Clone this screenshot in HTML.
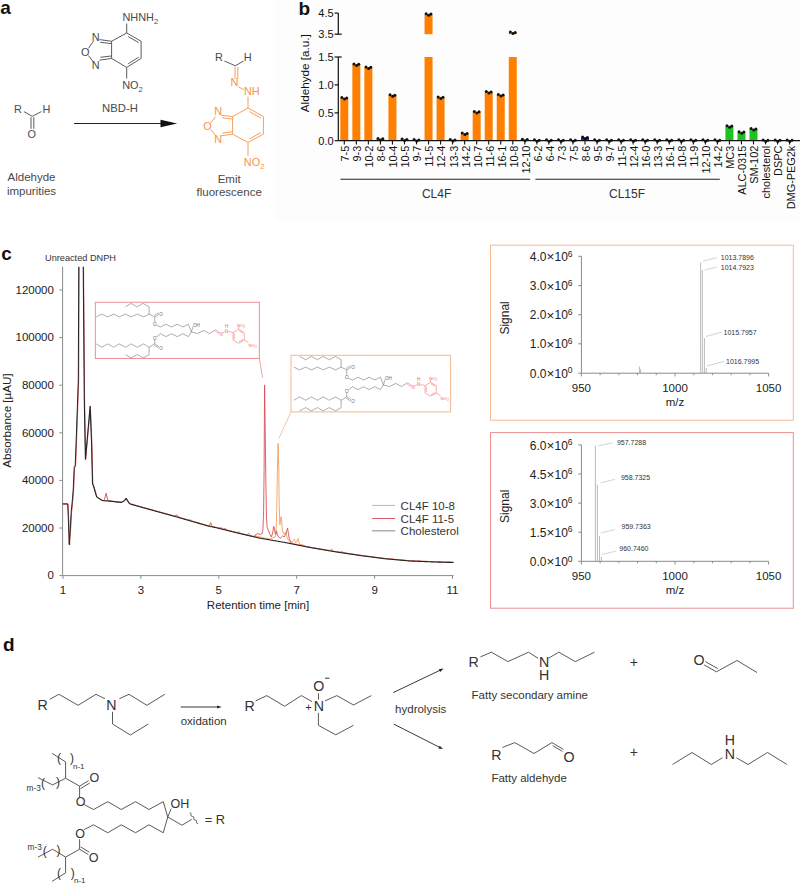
<!DOCTYPE html>
<html><head><meta charset="utf-8"><style>
html,body{margin:0;padding:0;background:#fff;}
svg{display:block;font-family:"Liberation Sans", sans-serif;}
</style></head><body>
<svg width="800" height="884" viewBox="0 0 800 884">
<rect width="800" height="884" fill="#fff"/>
<rect x="275" y="0" width="525" height="220.5" fill="#fdfdfd"/>
<text x="0.20" y="14.00" font-size="19" fill="#111" text-anchor="start" font-weight="bold" >a</text>
<text x="122.5" y="20.8" font-size="10.9" fill="#4a4a4a">NHNH<tspan font-size="7.5" dy="3">2</tspan></text>
<line x1="126.70" y1="23.60" x2="126.70" y2="33.00" stroke="#4a4a4a" stroke-width="0.9" />
<polyline points="126.70,33.00 141.10,41.25 141.10,58.40 126.70,67.40 111.60,58.40 111.60,41.25 126.70,33.00" fill="none" stroke="#4a4a4a" stroke-width="0.9" stroke-linejoin="round" />
<line x1="128.20" y1="36.60" x2="138.60" y2="42.60" stroke="#4a4a4a" stroke-width="0.9" />
<line x1="128.20" y1="63.80" x2="138.60" y2="57.20" stroke="#4a4a4a" stroke-width="0.9" />
<line x1="111.60" y1="41.25" x2="99.50" y2="39.60" stroke="#4a4a4a" stroke-width="0.9" />
<line x1="111.20" y1="43.60" x2="100.30" y2="42.30" stroke="#4a4a4a" stroke-width="0.9" />
<line x1="111.60" y1="58.40" x2="99.50" y2="60.20" stroke="#4a4a4a" stroke-width="0.9" />
<line x1="111.20" y1="56.00" x2="100.30" y2="57.30" stroke="#4a4a4a" stroke-width="0.9" />
<line x1="93.30" y1="41.30" x2="88.50" y2="48.30" stroke="#4a4a4a" stroke-width="0.9" />
<line x1="88.50" y1="55.50" x2="93.30" y2="62.00" stroke="#4a4a4a" stroke-width="0.9" />
<text x="91.80" y="40.60" font-size="10.9" fill="#4a4a4a" text-anchor="start" font-weight="normal" >N</text>
<text x="81.00" y="55.60" font-size="10.9" fill="#4a4a4a" text-anchor="start" font-weight="normal" >O</text>
<text x="91.80" y="68.60" font-size="10.9" fill="#4a4a4a" text-anchor="start" font-weight="normal" >N</text>
<line x1="126.70" y1="67.40" x2="126.70" y2="78.60" stroke="#4a4a4a" stroke-width="0.9" />
<text x="122.2" y="88.8" font-size="10.9" fill="#4a4a4a">NO<tspan font-size="7.5" dy="3">2</tspan></text>
<text x="120.00" y="112.00" font-size="11.3" fill="#4a4a4a" text-anchor="middle" font-weight="normal" >NBD-H</text>
<text x="14.00" y="113.30" font-size="10.9" fill="#4a4a4a" text-anchor="start" font-weight="normal" >R</text>
<line x1="23.90" y1="111.60" x2="32.30" y2="116.30" stroke="#4a4a4a" stroke-width="0.9" />
<line x1="32.30" y1="116.30" x2="41.40" y2="111.60" stroke="#4a4a4a" stroke-width="0.9" />
<text x="42.60" y="113.30" font-size="10.9" fill="#4a4a4a" text-anchor="start" font-weight="normal" >H</text>
<line x1="31.00" y1="117.20" x2="31.00" y2="128.80" stroke="#4a4a4a" stroke-width="0.9" />
<line x1="33.80" y1="117.20" x2="33.80" y2="128.80" stroke="#4a4a4a" stroke-width="0.9" />
<text x="27.60" y="138.40" font-size="10.9" fill="#4a4a4a" text-anchor="start" font-weight="normal" >O</text>
<text x="31.50" y="181.00" font-size="11.5" fill="#4a4a4a" text-anchor="middle" font-weight="normal" >Aldehyde</text>
<text x="31.50" y="194.60" font-size="11.5" fill="#4a4a4a" text-anchor="middle" font-weight="normal" >impurities</text>
<line x1="74.10" y1="123.50" x2="163.00" y2="123.50" stroke="#222" stroke-width="1" />
<polygon points="160.5,119.8 177.2,123.5 160.5,127.2" fill="#111"/>
<text x="215.00" y="60.80" font-size="10.9" fill="#4a4a4a" text-anchor="start" font-weight="normal" >R</text>
<text x="243.80" y="60.80" font-size="10.9" fill="#4a4a4a" text-anchor="start" font-weight="normal" >H</text>
<line x1="224.40" y1="61.00" x2="235.30" y2="65.80" stroke="#4a4a4a" stroke-width="0.9" />
<line x1="235.30" y1="65.80" x2="243.60" y2="61.00" stroke="#4a4a4a" stroke-width="0.9" />
<line x1="235.00" y1="66.80" x2="235.00" y2="79.00" stroke="#f5934b" stroke-width="0.9" />
<line x1="237.80" y1="66.80" x2="237.80" y2="79.00" stroke="#f5934b" stroke-width="0.9" />
<text x="230.40" y="86.40" font-size="10.9" fill="#f5934b" text-anchor="start" font-weight="normal" >N</text>
<line x1="238.20" y1="86.80" x2="244.00" y2="89.60" stroke="#f5934b" stroke-width="0.9" />
<text x="244.00" y="95.40" font-size="10.9" fill="#f5934b" text-anchor="start" font-weight="normal" >NH</text>
<line x1="248.00" y1="96.80" x2="248.00" y2="108.00" stroke="#f5934b" stroke-width="0.9" />
<polyline points="248.00,108.00 263.40,116.60 263.40,134.20 248.00,142.40 232.60,134.20 232.60,116.60 248.00,108.00" fill="none" stroke="#f5934b" stroke-width="0.9" stroke-linejoin="round" />
<line x1="249.50" y1="111.60" x2="260.90" y2="118.20" stroke="#f5934b" stroke-width="0.9" />
<line x1="249.50" y1="138.90" x2="260.90" y2="132.60" stroke="#f5934b" stroke-width="0.9" />
<line x1="232.60" y1="116.60" x2="221.20" y2="115.20" stroke="#f5934b" stroke-width="0.9" />
<line x1="232.20" y1="119.00" x2="222.00" y2="117.80" stroke="#f5934b" stroke-width="0.9" />
<line x1="232.60" y1="134.20" x2="221.20" y2="135.80" stroke="#f5934b" stroke-width="0.9" />
<line x1="232.20" y1="131.80" x2="222.00" y2="133.20" stroke="#f5934b" stroke-width="0.9" />
<line x1="215.50" y1="116.40" x2="210.80" y2="123.00" stroke="#f5934b" stroke-width="0.9" />
<line x1="210.80" y1="129.60" x2="215.50" y2="135.40" stroke="#f5934b" stroke-width="0.9" />
<text x="214.20" y="115.40" font-size="10.9" fill="#f5934b" text-anchor="start" font-weight="normal" >N</text>
<text x="203.20" y="129.80" font-size="10.9" fill="#f5934b" text-anchor="start" font-weight="normal" >O</text>
<text x="214.20" y="142.60" font-size="10.9" fill="#f5934b" text-anchor="start" font-weight="normal" >N</text>
<line x1="248.00" y1="142.40" x2="248.00" y2="155.80" stroke="#f5934b" stroke-width="0.9" />
<text x="243.8" y="166.2" font-size="10.9" fill="#f5934b">NO<tspan font-size="7.5" dy="3">2</tspan></text>
<text x="229.20" y="183.20" font-size="11.5" fill="#4a4a4a" text-anchor="middle" font-weight="normal" >Emit</text>
<text x="229.20" y="196.20" font-size="11.5" fill="#4a4a4a" text-anchor="middle" font-weight="normal" >fluorescence</text>
<text x="298.40" y="15.40" font-size="19" fill="#111" text-anchor="start" font-weight="bold" >b</text>
<line x1="338.30" y1="13.10" x2="338.30" y2="34.20" stroke="#111" stroke-width="1.2" />
<line x1="338.30" y1="57.00" x2="338.30" y2="140.70" stroke="#111" stroke-width="1.2" />
<line x1="334.60" y1="13.10" x2="338.30" y2="13.10" stroke="#111" stroke-width="1.2" />
<text x="333.60" y="17.10" font-size="11" fill="#111" text-anchor="end" font-weight="normal" >4.5</text>
<line x1="334.60" y1="34.20" x2="341.70" y2="34.20" stroke="#111" stroke-width="1.2" />
<text x="333.60" y="38.20" font-size="11" fill="#111" text-anchor="end" font-weight="normal" >3.5</text>
<line x1="334.60" y1="57.00" x2="341.70" y2="57.00" stroke="#111" stroke-width="1.2" />
<text x="333.60" y="61.00" font-size="11" fill="#111" text-anchor="end" font-weight="normal" >1.5</text>
<line x1="334.60" y1="84.90" x2="338.30" y2="84.90" stroke="#111" stroke-width="1.2" />
<text x="333.60" y="88.90" font-size="11" fill="#111" text-anchor="end" font-weight="normal" >1.0</text>
<line x1="334.60" y1="112.90" x2="338.30" y2="112.90" stroke="#111" stroke-width="1.2" />
<text x="333.60" y="116.90" font-size="11" fill="#111" text-anchor="end" font-weight="normal" >0.5</text>
<line x1="334.60" y1="140.70" x2="338.30" y2="140.70" stroke="#111" stroke-width="1.2" />
<text x="333.60" y="144.70" font-size="11" fill="#111" text-anchor="end" font-weight="normal" >0.0</text>
<text transform="translate(309.0,73.2) rotate(-90)" font-size="11.7" fill="#111" text-anchor="middle">Aldehyde [a.u.]</text>
<rect x="340.30" y="98.10" width="8" height="42.60" fill="#ff8000"/>
<circle cx="341.90" cy="97.50" r="1.5" fill="#111"/>
<circle cx="344.50" cy="99.00" r="1.5" fill="#111"/>
<circle cx="346.70" cy="97.90" r="1.5" fill="#111"/>
<line x1="344.30" y1="140.70" x2="344.30" y2="144.40" stroke="#111" stroke-width="1.1" />
<text transform="translate(349.20,145.7) rotate(-90) scale(0.965,1)" font-size="11.3" fill="#111" text-anchor="end">7-5</text>
<rect x="352.34" y="64.50" width="8" height="76.20" fill="#ff8000"/>
<circle cx="353.94" cy="63.90" r="1.5" fill="#111"/>
<circle cx="356.54" cy="65.40" r="1.5" fill="#111"/>
<circle cx="358.74" cy="64.30" r="1.5" fill="#111"/>
<line x1="356.34" y1="140.70" x2="356.34" y2="144.40" stroke="#111" stroke-width="1.1" />
<text transform="translate(361.24,145.7) rotate(-90) scale(0.965,1)" font-size="11.3" fill="#111" text-anchor="end">9-3</text>
<rect x="364.37" y="67.50" width="8" height="73.20" fill="#ff8000"/>
<circle cx="365.97" cy="66.90" r="1.5" fill="#111"/>
<circle cx="368.57" cy="68.40" r="1.5" fill="#111"/>
<circle cx="370.77" cy="67.30" r="1.5" fill="#111"/>
<line x1="368.37" y1="140.70" x2="368.37" y2="144.40" stroke="#111" stroke-width="1.1" />
<text transform="translate(373.27,145.7) rotate(-90) scale(0.965,1)" font-size="11.3" fill="#111" text-anchor="end">10-2</text>
<rect x="376.41" y="139.00" width="8" height="1.70" fill="#ff8000"/>
<circle cx="378.01" cy="138.40" r="1.5" fill="#111"/>
<circle cx="380.61" cy="139.90" r="1.5" fill="#111"/>
<circle cx="382.81" cy="138.80" r="1.5" fill="#111"/>
<line x1="380.41" y1="140.70" x2="380.41" y2="144.40" stroke="#111" stroke-width="1.1" />
<text transform="translate(385.31,145.7) rotate(-90) scale(0.965,1)" font-size="11.3" fill="#111" text-anchor="end">8-6</text>
<rect x="388.44" y="95.40" width="8" height="45.30" fill="#ff8000"/>
<circle cx="390.04" cy="94.80" r="1.5" fill="#111"/>
<circle cx="392.64" cy="96.30" r="1.5" fill="#111"/>
<circle cx="394.84" cy="95.20" r="1.5" fill="#111"/>
<line x1="392.44" y1="140.70" x2="392.44" y2="144.40" stroke="#111" stroke-width="1.1" />
<text transform="translate(397.34,145.7) rotate(-90) scale(0.965,1)" font-size="11.3" fill="#111" text-anchor="end">10-4</text>
<rect x="400.48" y="139.60" width="8" height="1.10" fill="#ff8000"/>
<circle cx="402.08" cy="139.00" r="1.5" fill="#111"/>
<circle cx="404.68" cy="140.50" r="1.5" fill="#111"/>
<circle cx="406.88" cy="139.40" r="1.5" fill="#111"/>
<line x1="404.48" y1="140.70" x2="404.48" y2="144.40" stroke="#111" stroke-width="1.1" />
<text transform="translate(409.38,145.7) rotate(-90) scale(0.965,1)" font-size="11.3" fill="#111" text-anchor="end">10-5</text>
<rect x="412.51" y="140.10" width="8" height="0.60" fill="#ff8000"/>
<circle cx="414.11" cy="139.50" r="1.5" fill="#111"/>
<circle cx="416.71" cy="141.00" r="1.5" fill="#111"/>
<circle cx="418.91" cy="139.90" r="1.5" fill="#111"/>
<line x1="416.51" y1="140.70" x2="416.51" y2="144.40" stroke="#111" stroke-width="1.1" />
<text transform="translate(421.41,145.7) rotate(-90) scale(0.965,1)" font-size="11.3" fill="#111" text-anchor="end">9-7</text>
<rect x="424.55" y="57" width="8" height="83.70" fill="#ff8000"/>
<rect x="424.55" y="14.3" width="8" height="19.9" fill="#ff8000"/>
<circle cx="426.15" cy="13.70" r="1.5" fill="#111"/>
<circle cx="428.75" cy="15.20" r="1.5" fill="#111"/>
<circle cx="430.94" cy="14.10" r="1.5" fill="#111"/>
<line x1="428.55" y1="140.70" x2="428.55" y2="144.40" stroke="#111" stroke-width="1.1" />
<text transform="translate(433.44,145.7) rotate(-90) scale(0.965,1)" font-size="11.3" fill="#111" text-anchor="end">11-5</text>
<rect x="436.58" y="97.50" width="8" height="43.20" fill="#ff8000"/>
<circle cx="438.18" cy="96.90" r="1.5" fill="#111"/>
<circle cx="440.78" cy="98.40" r="1.5" fill="#111"/>
<circle cx="442.98" cy="97.30" r="1.5" fill="#111"/>
<line x1="440.58" y1="140.70" x2="440.58" y2="144.40" stroke="#111" stroke-width="1.1" />
<text transform="translate(445.48,145.7) rotate(-90) scale(0.965,1)" font-size="11.3" fill="#111" text-anchor="end">12-4</text>
<rect x="448.62" y="140.20" width="8" height="0.50" fill="#ff8000"/>
<circle cx="450.22" cy="139.60" r="1.5" fill="#111"/>
<circle cx="452.81" cy="141.10" r="1.5" fill="#111"/>
<circle cx="455.01" cy="140.00" r="1.5" fill="#111"/>
<line x1="452.62" y1="140.70" x2="452.62" y2="144.40" stroke="#111" stroke-width="1.1" />
<text transform="translate(457.51,145.7) rotate(-90) scale(0.965,1)" font-size="11.3" fill="#111" text-anchor="end">13-3</text>
<rect x="460.65" y="133.60" width="8" height="7.10" fill="#ff8000"/>
<circle cx="462.25" cy="133.00" r="1.5" fill="#111"/>
<circle cx="464.85" cy="134.50" r="1.5" fill="#111"/>
<circle cx="467.05" cy="133.40" r="1.5" fill="#111"/>
<line x1="464.65" y1="140.70" x2="464.65" y2="144.40" stroke="#111" stroke-width="1.1" />
<text transform="translate(469.55,145.7) rotate(-90) scale(0.965,1)" font-size="11.3" fill="#111" text-anchor="end">14-2</text>
<rect x="472.69" y="112.00" width="8" height="28.70" fill="#ff8000"/>
<circle cx="474.29" cy="111.40" r="1.5" fill="#111"/>
<circle cx="476.88" cy="112.90" r="1.5" fill="#111"/>
<circle cx="479.08" cy="111.80" r="1.5" fill="#111"/>
<line x1="476.69" y1="140.70" x2="476.69" y2="144.40" stroke="#111" stroke-width="1.1" />
<text transform="translate(481.58,145.7) rotate(-90) scale(0.965,1)" font-size="11.3" fill="#111" text-anchor="end">10-7</text>
<rect x="484.72" y="92.10" width="8" height="48.60" fill="#ff8000"/>
<circle cx="486.32" cy="91.50" r="1.5" fill="#111"/>
<circle cx="488.92" cy="93.00" r="1.5" fill="#111"/>
<circle cx="491.12" cy="91.90" r="1.5" fill="#111"/>
<line x1="488.72" y1="140.70" x2="488.72" y2="144.40" stroke="#111" stroke-width="1.1" />
<text transform="translate(493.62,145.7) rotate(-90) scale(0.965,1)" font-size="11.3" fill="#111" text-anchor="end">11-6</text>
<rect x="496.75" y="95.10" width="8" height="45.60" fill="#ff8000"/>
<circle cx="498.36" cy="94.50" r="1.5" fill="#111"/>
<circle cx="500.95" cy="96.00" r="1.5" fill="#111"/>
<circle cx="503.15" cy="94.90" r="1.5" fill="#111"/>
<line x1="500.75" y1="140.70" x2="500.75" y2="144.40" stroke="#111" stroke-width="1.1" />
<text transform="translate(505.65,145.7) rotate(-90) scale(0.965,1)" font-size="11.3" fill="#111" text-anchor="end">16-1</text>
<rect x="508.79" y="57" width="8" height="83.70" fill="#ff8000"/>
<rect x="508.79" y="32.6" width="8" height="1.6" fill="#ff8000"/>
<circle cx="510.39" cy="32.00" r="1.5" fill="#111"/>
<circle cx="512.99" cy="33.50" r="1.5" fill="#111"/>
<circle cx="515.19" cy="32.40" r="1.5" fill="#111"/>
<line x1="512.79" y1="140.70" x2="512.79" y2="144.40" stroke="#111" stroke-width="1.1" />
<text transform="translate(517.69,145.7) rotate(-90) scale(0.965,1)" font-size="11.3" fill="#111" text-anchor="end">10-8</text>
<rect x="520.83" y="139.80" width="8" height="0.90" fill="#ff8000"/>
<circle cx="522.43" cy="139.20" r="1.5" fill="#111"/>
<circle cx="525.03" cy="140.70" r="1.5" fill="#111"/>
<circle cx="527.23" cy="139.60" r="1.5" fill="#111"/>
<line x1="524.83" y1="140.70" x2="524.83" y2="144.40" stroke="#111" stroke-width="1.1" />
<text transform="translate(529.73,145.7) rotate(-90) scale(0.965,1)" font-size="11.3" fill="#111" text-anchor="end">12-10</text>
<circle cx="534.46" cy="139.80" r="1.5" fill="#111"/>
<circle cx="537.06" cy="141.30" r="1.5" fill="#111"/>
<circle cx="539.26" cy="140.20" r="1.5" fill="#111"/>
<line x1="536.86" y1="140.70" x2="536.86" y2="144.40" stroke="#111" stroke-width="1.1" />
<text transform="translate(541.76,145.7) rotate(-90) scale(0.965,1)" font-size="11.3" fill="#111" text-anchor="end">6-2</text>
<circle cx="546.50" cy="139.80" r="1.5" fill="#111"/>
<circle cx="549.10" cy="141.30" r="1.5" fill="#111"/>
<circle cx="551.29" cy="140.20" r="1.5" fill="#111"/>
<line x1="548.89" y1="140.70" x2="548.89" y2="144.40" stroke="#111" stroke-width="1.1" />
<text transform="translate(553.79,145.7) rotate(-90) scale(0.965,1)" font-size="11.3" fill="#111" text-anchor="end">6-4</text>
<circle cx="558.53" cy="139.80" r="1.5" fill="#111"/>
<circle cx="561.13" cy="141.30" r="1.5" fill="#111"/>
<circle cx="563.33" cy="140.20" r="1.5" fill="#111"/>
<line x1="560.93" y1="140.70" x2="560.93" y2="144.40" stroke="#111" stroke-width="1.1" />
<text transform="translate(565.83,145.7) rotate(-90) scale(0.965,1)" font-size="11.3" fill="#111" text-anchor="end">7-3</text>
<circle cx="570.57" cy="139.80" r="1.5" fill="#111"/>
<circle cx="573.17" cy="141.30" r="1.5" fill="#111"/>
<circle cx="575.37" cy="140.20" r="1.5" fill="#111"/>
<line x1="572.97" y1="140.70" x2="572.97" y2="144.40" stroke="#111" stroke-width="1.1" />
<text transform="translate(577.87,145.7) rotate(-90) scale(0.965,1)" font-size="11.3" fill="#111" text-anchor="end">7-5</text>
<rect x="581.00" y="137.60" width="8" height="3.10" fill="#1a1aff"/>
<circle cx="582.60" cy="137.00" r="1.5" fill="#111"/>
<circle cx="585.20" cy="138.50" r="1.5" fill="#111"/>
<circle cx="587.40" cy="137.40" r="1.5" fill="#111"/>
<line x1="585.00" y1="140.70" x2="585.00" y2="144.40" stroke="#111" stroke-width="1.1" />
<text transform="translate(589.90,145.7) rotate(-90) scale(0.965,1)" font-size="11.3" fill="#111" text-anchor="end">8-6</text>
<circle cx="594.64" cy="139.80" r="1.5" fill="#111"/>
<circle cx="597.24" cy="141.30" r="1.5" fill="#111"/>
<circle cx="599.44" cy="140.20" r="1.5" fill="#111"/>
<line x1="597.04" y1="140.70" x2="597.04" y2="144.40" stroke="#111" stroke-width="1.1" />
<text transform="translate(601.94,145.7) rotate(-90) scale(0.965,1)" font-size="11.3" fill="#111" text-anchor="end">9-5</text>
<circle cx="606.67" cy="139.80" r="1.5" fill="#111"/>
<circle cx="609.27" cy="141.30" r="1.5" fill="#111"/>
<circle cx="611.47" cy="140.20" r="1.5" fill="#111"/>
<line x1="609.07" y1="140.70" x2="609.07" y2="144.40" stroke="#111" stroke-width="1.1" />
<text transform="translate(613.97,145.7) rotate(-90) scale(0.965,1)" font-size="11.3" fill="#111" text-anchor="end">9-7</text>
<circle cx="618.71" cy="139.80" r="1.5" fill="#111"/>
<circle cx="621.31" cy="141.30" r="1.5" fill="#111"/>
<circle cx="623.50" cy="140.20" r="1.5" fill="#111"/>
<line x1="621.11" y1="140.70" x2="621.11" y2="144.40" stroke="#111" stroke-width="1.1" />
<text transform="translate(626.00,145.7) rotate(-90) scale(0.965,1)" font-size="11.3" fill="#111" text-anchor="end">11-5</text>
<circle cx="630.74" cy="139.80" r="1.5" fill="#111"/>
<circle cx="633.34" cy="141.30" r="1.5" fill="#111"/>
<circle cx="635.54" cy="140.20" r="1.5" fill="#111"/>
<line x1="633.14" y1="140.70" x2="633.14" y2="144.40" stroke="#111" stroke-width="1.1" />
<text transform="translate(638.04,145.7) rotate(-90) scale(0.965,1)" font-size="11.3" fill="#111" text-anchor="end">12-4</text>
<circle cx="642.77" cy="139.80" r="1.5" fill="#111"/>
<circle cx="645.38" cy="141.30" r="1.5" fill="#111"/>
<circle cx="647.57" cy="140.20" r="1.5" fill="#111"/>
<line x1="645.17" y1="140.70" x2="645.17" y2="144.40" stroke="#111" stroke-width="1.1" />
<text transform="translate(650.07,145.7) rotate(-90) scale(0.965,1)" font-size="11.3" fill="#111" text-anchor="end">16-0</text>
<circle cx="654.81" cy="139.80" r="1.5" fill="#111"/>
<circle cx="657.41" cy="141.30" r="1.5" fill="#111"/>
<circle cx="659.61" cy="140.20" r="1.5" fill="#111"/>
<line x1="657.21" y1="140.70" x2="657.21" y2="144.40" stroke="#111" stroke-width="1.1" />
<text transform="translate(662.11,145.7) rotate(-90) scale(0.965,1)" font-size="11.3" fill="#111" text-anchor="end">13-3</text>
<circle cx="666.85" cy="139.80" r="1.5" fill="#111"/>
<circle cx="669.45" cy="141.30" r="1.5" fill="#111"/>
<circle cx="671.64" cy="140.20" r="1.5" fill="#111"/>
<line x1="669.25" y1="140.70" x2="669.25" y2="144.40" stroke="#111" stroke-width="1.1" />
<text transform="translate(674.14,145.7) rotate(-90) scale(0.965,1)" font-size="11.3" fill="#111" text-anchor="end">16-1</text>
<circle cx="678.88" cy="139.80" r="1.5" fill="#111"/>
<circle cx="681.48" cy="141.30" r="1.5" fill="#111"/>
<circle cx="683.68" cy="140.20" r="1.5" fill="#111"/>
<line x1="681.28" y1="140.70" x2="681.28" y2="144.40" stroke="#111" stroke-width="1.1" />
<text transform="translate(686.18,145.7) rotate(-90) scale(0.965,1)" font-size="11.3" fill="#111" text-anchor="end">10-8</text>
<circle cx="690.92" cy="139.80" r="1.5" fill="#111"/>
<circle cx="693.52" cy="141.30" r="1.5" fill="#111"/>
<circle cx="695.72" cy="140.20" r="1.5" fill="#111"/>
<line x1="693.32" y1="140.70" x2="693.32" y2="144.40" stroke="#111" stroke-width="1.1" />
<text transform="translate(698.22,145.7) rotate(-90) scale(0.965,1)" font-size="11.3" fill="#111" text-anchor="end">11-9</text>
<circle cx="702.95" cy="139.80" r="1.5" fill="#111"/>
<circle cx="705.55" cy="141.30" r="1.5" fill="#111"/>
<circle cx="707.75" cy="140.20" r="1.5" fill="#111"/>
<line x1="705.35" y1="140.70" x2="705.35" y2="144.40" stroke="#111" stroke-width="1.1" />
<text transform="translate(710.25,145.7) rotate(-90) scale(0.965,1)" font-size="11.3" fill="#111" text-anchor="end">12-10</text>
<circle cx="714.99" cy="139.80" r="1.5" fill="#111"/>
<circle cx="717.59" cy="141.30" r="1.5" fill="#111"/>
<circle cx="719.78" cy="140.20" r="1.5" fill="#111"/>
<line x1="717.38" y1="140.70" x2="717.38" y2="144.40" stroke="#111" stroke-width="1.1" />
<text transform="translate(722.28,145.7) rotate(-90) scale(0.965,1)" font-size="11.3" fill="#111" text-anchor="end">14-2</text>
<rect x="725.42" y="126.30" width="8" height="14.40" fill="#1ec31e"/>
<circle cx="727.02" cy="125.70" r="1.5" fill="#111"/>
<circle cx="729.62" cy="127.20" r="1.5" fill="#111"/>
<circle cx="731.82" cy="126.10" r="1.5" fill="#111"/>
<line x1="729.42" y1="140.70" x2="729.42" y2="144.40" stroke="#111" stroke-width="1.1" />
<text transform="translate(734.32,145.7) rotate(-90) scale(0.965,1)" font-size="11.3" fill="#111" text-anchor="end">MC3</text>
<rect x="737.46" y="132.30" width="8" height="8.40" fill="#1ec31e"/>
<circle cx="739.06" cy="131.70" r="1.5" fill="#111"/>
<circle cx="741.66" cy="133.20" r="1.5" fill="#111"/>
<circle cx="743.86" cy="132.10" r="1.5" fill="#111"/>
<line x1="741.46" y1="140.70" x2="741.46" y2="144.40" stroke="#111" stroke-width="1.1" />
<text transform="translate(746.36,145.7) rotate(-90) scale(0.965,1)" font-size="11.3" fill="#111" text-anchor="end">ALC-0315</text>
<rect x="749.49" y="129.10" width="8" height="11.60" fill="#1ec31e"/>
<circle cx="751.09" cy="128.50" r="1.5" fill="#111"/>
<circle cx="753.69" cy="130.00" r="1.5" fill="#111"/>
<circle cx="755.89" cy="128.90" r="1.5" fill="#111"/>
<line x1="753.49" y1="140.70" x2="753.49" y2="144.40" stroke="#111" stroke-width="1.1" />
<text transform="translate(758.39,145.7) rotate(-90) scale(0.965,1)" font-size="11.3" fill="#111" text-anchor="end">SM-102</text>
<circle cx="763.13" cy="139.90" r="1.5" fill="#111"/>
<circle cx="765.73" cy="141.40" r="1.5" fill="#111"/>
<circle cx="767.93" cy="140.30" r="1.5" fill="#111"/>
<line x1="765.53" y1="140.70" x2="765.53" y2="144.40" stroke="#111" stroke-width="1.1" />
<text transform="translate(770.43,145.7) rotate(-90) scale(0.965,1)" font-size="11.3" fill="#111" text-anchor="end">cholesterol</text>
<circle cx="775.16" cy="139.90" r="1.5" fill="#111"/>
<circle cx="777.76" cy="141.40" r="1.5" fill="#111"/>
<circle cx="779.96" cy="140.30" r="1.5" fill="#111"/>
<line x1="777.56" y1="140.70" x2="777.56" y2="144.40" stroke="#111" stroke-width="1.1" />
<text transform="translate(782.46,145.7) rotate(-90) scale(0.965,1)" font-size="11.3" fill="#111" text-anchor="end">DSPC</text>
<circle cx="787.20" cy="139.90" r="1.5" fill="#111"/>
<circle cx="789.80" cy="141.40" r="1.5" fill="#111"/>
<circle cx="792.00" cy="140.30" r="1.5" fill="#111"/>
<line x1="789.60" y1="140.70" x2="789.60" y2="144.40" stroke="#111" stroke-width="1.1" />
<text transform="translate(794.50,145.7) rotate(-90) scale(0.965,1)" font-size="11.3" fill="#111" text-anchor="end">DMG-PEG2k</text>
<line x1="338.30" y1="140.70" x2="800.00" y2="140.70" stroke="#111" stroke-width="1.3" />
<line x1="340.50" y1="179.30" x2="530.20" y2="179.30" stroke="#222" stroke-width="1.1" />
<line x1="535.40" y1="179.30" x2="719.80" y2="179.30" stroke="#222" stroke-width="1.1" />
<text x="436.60" y="197.80" font-size="12" fill="#333" text-anchor="middle" font-weight="normal" >CL4F</text>
<text x="627.00" y="197.80" font-size="12" fill="#333" text-anchor="middle" font-weight="normal" >CL15F</text>
<text x="1.30" y="260.30" font-size="19" fill="#111" text-anchor="start" font-weight="bold" >c</text>
<text x="45.00" y="260.50" font-size="9.2" fill="#333" text-anchor="start" font-weight="normal" >Unreacted DNPH</text>
<line x1="62.60" y1="266.60" x2="62.60" y2="575.60" stroke="#8a8a8a" stroke-width="1" />
<line x1="62.60" y1="575.60" x2="453.60" y2="575.60" stroke="#8a8a8a" stroke-width="1" />
<line x1="59.30" y1="575.60" x2="62.60" y2="575.60" stroke="#8a8a8a" stroke-width="1" />
<text x="53.90" y="579.30" font-size="11.5" fill="#222" text-anchor="end" font-weight="normal" >0</text>
<line x1="59.30" y1="528.00" x2="62.60" y2="528.00" stroke="#8a8a8a" stroke-width="1" />
<text x="53.90" y="531.70" font-size="11.5" fill="#222" text-anchor="end" font-weight="normal" >20000</text>
<line x1="59.30" y1="480.40" x2="62.60" y2="480.40" stroke="#8a8a8a" stroke-width="1" />
<text x="53.90" y="484.10" font-size="11.5" fill="#222" text-anchor="end" font-weight="normal" >40000</text>
<line x1="59.30" y1="432.80" x2="62.60" y2="432.80" stroke="#8a8a8a" stroke-width="1" />
<text x="53.90" y="436.50" font-size="11.5" fill="#222" text-anchor="end" font-weight="normal" >60000</text>
<line x1="59.30" y1="385.20" x2="62.60" y2="385.20" stroke="#8a8a8a" stroke-width="1" />
<text x="53.90" y="388.90" font-size="11.5" fill="#222" text-anchor="end" font-weight="normal" >80000</text>
<line x1="59.30" y1="337.60" x2="62.60" y2="337.60" stroke="#8a8a8a" stroke-width="1" />
<text x="53.90" y="341.30" font-size="11.5" fill="#222" text-anchor="end" font-weight="normal" >100000</text>
<line x1="59.30" y1="290.00" x2="62.60" y2="290.00" stroke="#8a8a8a" stroke-width="1" />
<text x="53.90" y="293.70" font-size="11.5" fill="#222" text-anchor="end" font-weight="normal" >120000</text>
<line x1="63.00" y1="575.60" x2="63.00" y2="578.80" stroke="#8a8a8a" stroke-width="1" />
<text x="63.00" y="594.20" font-size="11.5" fill="#222" text-anchor="middle" font-weight="normal" >1</text>
<line x1="140.90" y1="575.60" x2="140.90" y2="578.80" stroke="#8a8a8a" stroke-width="1" />
<text x="140.90" y="594.20" font-size="11.5" fill="#222" text-anchor="middle" font-weight="normal" >3</text>
<line x1="218.80" y1="575.60" x2="218.80" y2="578.80" stroke="#8a8a8a" stroke-width="1" />
<text x="218.80" y="594.20" font-size="11.5" fill="#222" text-anchor="middle" font-weight="normal" >5</text>
<line x1="296.70" y1="575.60" x2="296.70" y2="578.80" stroke="#8a8a8a" stroke-width="1" />
<text x="296.70" y="594.20" font-size="11.5" fill="#222" text-anchor="middle" font-weight="normal" >7</text>
<line x1="374.60" y1="575.60" x2="374.60" y2="578.80" stroke="#8a8a8a" stroke-width="1" />
<text x="374.60" y="594.20" font-size="11.5" fill="#222" text-anchor="middle" font-weight="normal" >9</text>
<line x1="452.50" y1="575.60" x2="452.50" y2="578.80" stroke="#8a8a8a" stroke-width="1" />
<text x="452.50" y="594.20" font-size="11.5" fill="#222" text-anchor="middle" font-weight="normal" >11</text>
<text transform="translate(10.6,420.6) rotate(-90)" font-size="11.6" fill="#222" text-anchor="middle">Absorbance [µAU]</text>
<text x="258.00" y="609.20" font-size="11.5" fill="#222" text-anchor="middle" font-weight="normal" >Retention time [min]</text>
<polyline points="130.50,503.90 130.75,503.97 131.00,504.04 131.25,504.11 131.50,504.18 131.75,504.25 132.00,504.32 132.25,504.39 132.50,504.46 132.75,504.53 133.00,504.60 133.25,504.67 133.50,504.74 133.75,504.81 134.00,504.88 134.25,504.95 134.50,505.02 134.75,505.09 135.00,505.16 135.25,505.23 135.50,505.30 135.75,505.37 136.00,505.44 136.25,505.51 136.50,505.58 136.75,505.65 137.00,505.72 137.25,505.79 137.50,505.86 137.75,505.93 138.00,506.00 138.25,506.07 138.50,506.14 138.75,506.21 139.00,506.28 139.25,506.35 139.50,506.42 139.75,506.49 140.00,506.56 140.25,506.62 140.50,506.69 140.75,506.76 141.00,506.83 141.25,506.90 141.50,506.97 141.75,507.04 142.00,507.11 142.25,507.18 142.50,507.25 142.75,507.32 143.00,507.39 143.25,507.46 143.50,507.53 143.75,507.60 144.00,507.67 144.25,507.74 144.50,507.81 144.75,507.88 145.00,507.95 145.25,508.02 145.50,508.09 145.75,508.16 146.00,508.23 146.25,508.30 146.50,508.37 146.75,508.44 147.00,508.51 147.25,508.58 147.50,508.65 147.75,508.72 148.00,508.79 148.25,508.86 148.50,508.93 148.75,509.00 149.00,509.07 149.25,509.14 149.50,509.21 149.75,509.28 150.00,509.35 150.25,509.42 150.50,509.49 150.75,509.56 151.00,509.62 151.25,509.69 151.50,509.76 151.75,509.83 152.00,509.90 152.25,509.97 152.50,510.04 152.75,510.11 153.00,510.18 153.25,510.24 153.50,510.31 153.75,510.38 154.00,510.45 154.25,510.52 154.50,510.59 154.75,510.66 155.00,510.73 155.25,510.79 155.50,510.86 155.75,510.93 156.00,511.00 156.25,511.07 156.50,511.14 156.75,511.21 157.00,511.28 157.25,511.34 157.50,511.41 157.75,511.48 158.00,511.55 158.25,511.62 158.50,511.69 158.75,511.76 159.00,511.83 159.25,511.89 159.50,511.96 159.75,512.03 160.00,512.10 160.25,512.17 160.50,512.24 160.75,512.31 161.00,512.38 161.25,512.44 161.50,512.51 161.75,512.58 162.00,512.65 162.25,512.72 162.50,512.79 162.75,512.86 163.00,512.92 163.25,512.99 163.50,513.06 163.75,513.13 164.00,513.20 164.25,513.27 164.50,513.34 164.75,513.41 165.00,513.48 165.25,513.54 165.50,513.61 165.75,513.68 166.00,513.75 166.25,513.82 166.50,513.89 166.75,513.96 167.00,514.02 167.25,514.09 167.50,514.16 167.75,514.23 168.00,514.30 168.25,514.37 168.50,514.44 168.75,514.51 169.00,514.57 169.25,514.64 169.50,514.71 169.75,514.78 170.00,514.85 170.25,514.92 170.50,514.99 170.75,515.06 171.00,515.12 171.25,515.19 171.50,515.26 171.75,515.33 172.00,515.40 172.25,515.47 172.50,515.53 172.75,515.60 173.00,515.65 173.25,515.70 173.50,515.74 173.75,515.75 174.00,515.75 174.25,515.71 174.50,515.65 174.75,515.56 175.00,515.46 175.25,515.36 175.50,515.29 175.75,515.26 176.00,515.30 176.25,515.41 176.50,515.57 176.75,515.78 177.00,516.02 177.25,516.26 177.50,516.49 177.75,516.70 178.00,516.87 178.25,517.02 178.50,517.15 178.75,517.25 179.00,517.34 179.25,517.43 179.50,517.51 179.75,517.58 180.00,517.65 180.25,517.73 180.50,517.80 180.75,517.87 181.00,517.94 181.25,518.02 181.50,518.09 181.75,518.16 182.00,518.23 182.25,518.31 182.50,518.38 182.75,518.45 183.00,518.52 183.25,518.59 183.50,518.67 183.75,518.74 184.00,518.81 184.25,518.88 184.50,518.96 184.75,519.03 185.00,519.10 185.25,519.17 185.50,519.24 185.75,519.32 186.00,519.39 186.25,519.46 186.50,519.53 186.75,519.61 187.00,519.68 187.25,519.75 187.50,519.82 187.75,519.89 188.00,519.97 188.25,520.04 188.50,520.11 188.75,520.18 189.00,520.26 189.25,520.33 189.50,520.40 189.75,520.47 190.00,520.54 190.25,520.62 190.50,520.69 190.75,520.76 191.00,520.83 191.25,520.91 191.50,520.98 191.75,521.05 192.00,521.12 192.25,521.19 192.50,521.27 192.75,521.34 193.00,521.41 193.25,521.48 193.50,521.56 193.75,521.63 194.00,521.70 194.25,521.77 194.50,521.84 194.75,521.92 195.00,521.99 195.25,522.06 195.50,522.13 195.75,522.21 196.00,522.28 196.25,522.35 196.50,522.42 196.75,522.49 197.00,522.57 197.25,522.64 197.50,522.71 197.75,522.78 198.00,522.86 198.25,522.93 198.50,523.00 198.75,523.07 199.00,523.14 199.25,523.22 199.50,523.29 199.75,523.36 200.00,523.43 200.25,523.51 200.50,523.58 200.75,523.65 201.00,523.72 201.25,523.79 201.50,523.87 201.75,523.94 202.00,524.01 202.25,524.08 202.50,524.16 202.75,524.23 203.00,524.30 203.25,524.37 203.50,524.44 203.75,524.52 204.00,524.59 204.25,524.66 204.50,524.73 204.75,524.81 205.00,524.88 205.25,524.95 205.50,525.02 205.75,525.09 206.00,525.17 206.25,525.24 206.50,525.31 206.75,525.38 207.00,525.46 207.25,525.53 207.50,525.60 207.75,525.65 208.00,525.71 208.25,525.75 208.50,525.80 208.75,525.82 209.00,525.81 209.25,525.73 209.50,525.58 209.75,525.35 210.00,525.09 210.25,524.86 210.50,524.76 210.75,524.83 211.00,525.07 211.25,525.42 211.50,525.79 211.75,526.11 212.00,526.35 212.25,526.52 212.50,526.63 212.75,526.71 213.00,526.77 213.25,526.83 213.50,526.89 213.75,526.94 214.00,526.99 214.25,527.05 214.50,527.10 214.75,527.15 215.00,527.21 215.25,527.26 215.50,527.31 215.75,527.37 216.00,527.42 216.25,527.48 216.50,527.53 216.75,527.58 217.00,527.64 217.25,527.69 217.50,527.74 217.75,527.80 218.00,527.85 218.25,527.91 218.50,527.98 218.75,528.04 219.00,528.10 219.25,528.16 219.50,528.23 219.75,528.29 220.00,528.35 220.25,528.41 220.50,528.48 220.75,528.54 221.00,528.60 221.25,528.66 221.50,528.73 221.75,528.79 222.00,528.85 222.25,528.91 222.50,528.98 222.75,529.04 223.00,529.10 223.25,529.16 223.50,529.23 223.75,529.29 224.00,529.35 224.25,529.41 224.50,529.48 224.75,529.54 225.00,529.60 225.25,529.66 225.50,529.73 225.75,529.79 226.00,529.85 226.25,529.91 226.50,529.98 226.75,530.04 227.00,530.10 227.25,530.16 227.50,530.23 227.75,530.29 228.00,530.35 228.25,530.41 228.50,530.48 228.75,530.54 229.00,530.60 229.25,530.66 229.50,530.73 229.75,530.79 230.00,530.85 230.25,530.91 230.50,530.98 230.75,531.04 231.00,531.10 231.25,531.16 231.50,531.23 231.75,531.29 232.00,531.35 232.25,531.41 232.50,531.48 232.75,531.54 233.00,531.60 233.25,531.66 233.50,531.73 233.75,531.79 234.00,531.85 234.25,531.91 234.50,531.98 234.75,532.04 235.00,532.10 235.25,532.16 235.50,532.23 235.75,532.29 236.00,532.35 236.25,532.41 236.50,532.48 236.75,532.54 237.00,532.60 237.25,532.66 237.50,532.73 237.75,532.79 238.00,532.85 238.25,532.91 238.50,532.98 238.75,533.04 239.00,533.10 239.25,533.16 239.50,533.23 239.75,533.29 240.00,533.35 240.25,533.41 240.50,533.47 240.75,533.52 241.00,533.58 241.25,533.64 241.50,533.70 241.75,533.75 242.00,533.81 242.25,533.87 242.50,533.93 242.75,533.98 243.00,534.04 243.25,534.10 243.50,534.15 243.75,534.21 244.00,534.27 244.25,534.33 244.50,534.38 244.75,534.44 245.00,534.50 245.25,534.56 245.50,534.62 245.75,534.67 246.00,534.73 246.25,534.79 246.50,534.85 246.75,534.90 247.00,534.96 247.25,535.02 247.50,535.08 247.75,535.13 248.00,535.19 248.25,535.25 248.50,535.31 248.75,535.36 249.00,535.42 249.25,535.48 249.50,535.54 249.75,535.59 250.00,535.65 250.25,535.71 250.50,535.76 250.75,535.82 251.00,535.88 251.25,535.94 251.50,536.00 251.75,536.05 252.00,536.11 252.25,536.17 252.50,536.23 252.75,536.28 253.00,536.34 253.25,536.40 253.50,536.46 253.75,536.51 254.00,536.57 254.25,536.63 254.50,536.69 254.75,536.74 255.00,535.95 260.00,536.95 265.00,538.05 270.00,539.05 275.40,536.75 276.10,533.05 276.70,511.25 277.40,470.55 278.10,443.35 278.80,470.55 279.20,504.45 279.90,524.85 280.50,519.45 281.10,516.75 281.80,522.15 282.20,527.55 283.10,533.05 284.20,534.35 285.20,532.35 286.00,533.05 286.90,537.05 288.30,539.85 290.10,542.55 291.70,541.85 293.30,540.45 294.40,539.15 295.40,542.55 296.40,542.55 297.40,539.85 298.20,538.45 299.00,542.55 300.10,544.55 302.60,544.35 303.60,545.55 303.75,546.00 304.00,546.05 304.25,546.10 304.50,546.15 304.75,546.20 305.00,546.25 305.25,546.30 305.50,546.35 305.75,546.40 306.00,546.45 306.25,546.50 306.50,546.55 306.75,546.60 307.00,546.65 307.25,546.70 307.50,546.75 307.75,546.80 308.00,546.85 308.25,546.90 308.50,546.95 308.75,547.00 309.00,547.05 309.25,547.10 309.50,547.15 309.75,547.20 310.00,547.25 310.25,547.29 310.50,547.34 310.75,547.38 311.00,547.42 311.25,547.46 311.50,547.50 311.75,547.55 312.00,547.59 312.25,547.63 312.50,547.67 312.75,547.72 313.00,547.76 313.25,547.80 313.50,547.85 313.75,547.89 314.00,547.93 314.25,547.97 314.50,548.01 314.75,548.06 315.00,548.10 315.25,548.14 315.50,548.18 315.75,548.23 316.00,548.27 316.25,548.31 316.50,548.36 316.75,548.40 317.00,548.44 317.25,548.48 317.50,548.52 317.75,548.57 318.00,548.61 318.25,548.65 318.50,548.70 318.75,548.74 319.00,548.78 319.25,548.82 319.50,548.87 319.75,548.91 320.00,548.95 320.25,548.99 320.50,549.03 320.75,549.08 321.00,549.12 321.25,549.16 321.50,549.21 321.75,549.25 322.00,549.29 322.25,549.33 322.50,549.38 322.75,549.42 323.00,549.46 323.25,549.50 323.50,549.54 323.75,549.59 324.00,549.63 324.25,549.67 324.50,549.72 324.75,549.76 325.00,549.80 325.25,549.84 325.50,549.88 325.75,549.93 326.00,549.97 326.25,550.01 326.50,550.05 326.75,550.10 327.00,550.14 327.25,550.18 327.50,550.23 327.75,550.27 328.00,550.31 328.25,550.35 328.50,550.39 328.75,550.44 329.00,550.48 329.25,550.52 329.50,550.57 329.75,550.61 330.00,550.65 330.25,550.69 330.50,550.74 330.75,550.78 331.00,550.82 331.25,550.86 331.50,550.90 331.75,550.95 332.00,550.99 332.25,551.03 332.50,551.08 332.75,551.12 333.00,551.16 333.25,551.20 333.50,551.25 333.75,551.29 334.00,551.33 334.25,551.37 334.50,551.41 334.75,551.46 335.00,551.50 335.25,551.54 335.50,551.58 335.75,551.61 336.00,551.65 336.25,551.69 336.50,551.73 336.75,551.76 337.00,551.80 337.25,551.84 337.50,551.88 337.75,551.91 338.00,551.95 338.25,551.99 338.50,552.02 338.75,552.06 339.00,552.10 339.25,552.14 339.50,552.17 339.75,552.21 340.00,552.25 340.25,552.29 340.50,552.33 340.75,552.36 341.00,552.40 341.25,552.44 341.50,552.48 341.75,552.51 342.00,552.55 342.25,552.59 342.50,552.62 342.75,552.66 343.00,552.70 343.25,552.74 343.50,552.77 343.75,552.81 344.00,552.85 344.25,552.89 344.50,552.92 344.75,552.96 345.00,553.00 345.25,553.04 345.50,553.08 345.75,553.11 346.00,553.15 346.25,553.19 346.50,553.23 346.75,553.26 347.00,553.30 347.25,553.34 347.50,553.38 347.75,553.41 348.00,553.45 348.25,553.49 348.50,553.52 348.75,553.56 349.00,553.60 349.25,553.64 349.50,553.67 349.75,553.71 350.00,553.75 350.25,553.79 350.50,553.83 350.75,553.86 351.00,553.90 351.25,553.94 351.50,553.98 351.75,554.01 352.00,554.05 352.25,554.09 352.50,554.12 352.75,554.16 353.00,554.20 353.25,554.24 353.50,554.27 353.75,554.31 354.00,554.35 354.25,554.39 354.50,554.42 354.75,554.46 355.00,554.50 355.25,554.54 355.50,554.58 355.75,554.61 356.00,554.65 356.25,554.69 356.50,554.73 356.75,554.76 357.00,554.80 357.25,554.84 357.50,554.88 357.75,554.91 358.00,554.95 358.25,554.99 358.50,555.02 358.75,555.06 359.00,555.10 359.25,555.14 359.50,555.17 359.75,555.21 360.00,555.25 360.25,555.28 360.50,555.32 360.75,555.35 361.00,555.38 361.25,555.41 361.50,555.45 361.75,555.48 362.00,555.51 362.25,555.54 362.50,555.58 362.75,555.61 363.00,555.64 363.25,555.67 363.50,555.71 363.75,555.74 364.00,555.77 364.25,555.80 364.50,555.84 364.75,555.87 365.00,555.90 365.25,555.93 365.50,555.97 365.75,556.00 366.00,556.03 366.25,556.06 366.50,556.10 366.75,556.13 367.00,556.16 367.25,556.19 367.50,556.23 367.75,556.26 368.00,556.29 368.25,556.32 368.50,556.36 368.75,556.39 369.00,556.42 369.25,556.45 369.50,556.49 369.75,556.52 370.00,556.55 370.25,556.58 370.50,556.62 370.75,556.65 371.00,556.68 371.25,556.71 371.50,556.75 371.75,556.78 372.00,556.81 372.25,556.84 372.50,556.88 372.75,556.91 373.00,556.94 373.25,556.97 373.50,557.00 373.75,557.04 374.00,557.07 374.25,557.10 374.50,557.13 374.75,557.17 375.00,557.20 375.25,557.23 375.50,557.26 375.75,557.30 376.00,557.33 376.25,557.36 376.50,557.39 376.75,557.43 377.00,557.46 377.25,557.49 377.50,557.52 377.75,557.56 378.00,557.59 378.25,557.62 378.50,557.65 378.75,557.69 379.00,557.72 379.25,557.75 379.50,557.78 379.75,557.82 380.00,557.85 380.25,557.88 380.50,557.91 380.75,557.95 381.00,557.98 381.25,558.01 381.50,558.04 381.75,558.08 382.00,558.11 382.25,558.14 382.50,558.17 382.75,558.21 383.00,558.24 383.25,558.27 383.50,558.30 383.75,558.34 384.00,558.37 384.25,558.40 384.50,558.43 384.75,558.47 385.00,558.50 385.25,558.52 385.50,558.54 385.75,558.57 386.00,558.59 386.25,558.61 386.50,558.63 386.75,558.66 387.00,558.68 387.25,558.70 387.50,558.73 387.75,558.75 388.00,558.77 388.25,558.79 388.50,558.82 388.75,558.84 389.00,558.86 389.25,558.88 389.50,558.90 389.75,558.93 390.00,558.95 390.25,558.97 390.50,559.00 390.75,559.02 391.00,559.04 391.25,559.06 391.50,559.09 391.75,559.11 392.00,559.13 392.25,559.15 392.50,559.17 392.75,559.20 393.00,559.22 393.25,559.24 393.50,559.26 393.75,559.29 394.00,559.31 394.25,559.33 394.50,559.36 394.75,559.38 395.00,559.40 395.25,559.42 395.50,559.45 395.75,559.47 396.00,559.49 396.25,559.51 396.50,559.53 396.75,559.56 397.00,559.58 397.25,559.60 397.50,559.62 397.75,559.65 398.00,559.67 398.25,559.69 398.50,559.72 398.75,559.74 399.00,559.76 399.25,559.78 399.50,559.80 399.75,559.83 400.00,559.85 400.25,559.87 400.50,559.89 400.75,559.92 401.00,559.94 401.25,559.96 401.50,559.99 401.75,560.01 402.00,560.03 402.25,560.05 402.50,560.08 402.75,560.10 403.00,560.12 403.25,560.14 403.50,560.16 403.75,560.19 404.00,560.21 404.25,560.23 404.50,560.25 404.75,560.28 405.00,560.30 405.25,560.32 405.50,560.35 405.75,560.37 406.00,560.39 406.25,560.41 406.50,560.43 406.75,560.46 407.00,560.48 407.25,560.50 407.50,560.52 407.75,560.55 408.00,560.57 408.25,560.59 408.50,560.62 408.75,560.64 409.00,560.66 409.25,560.68 409.50,560.71 409.75,560.73 410.00,560.75 410.25,560.76 410.50,560.77 410.75,560.78 411.00,560.79 411.25,560.80 411.50,560.81 411.75,560.82 412.00,560.83 412.25,560.84 412.50,560.85 412.75,560.86 413.00,560.87 413.25,560.88 413.50,560.89 413.75,560.90 414.00,560.91 414.25,560.92 414.50,560.93 414.75,560.94 415.00,560.95 415.25,560.96 415.50,560.97 415.75,560.98 416.00,560.99 416.25,561.00 416.50,561.01 416.75,561.02 417.00,561.03 417.25,561.04 417.50,561.05 417.75,561.06 418.00,561.07 418.25,561.08 418.50,561.09 418.75,561.10 419.00,561.11 419.25,561.12 419.50,561.13 419.75,561.14 420.00,561.15 420.25,561.16 420.50,561.17 420.75,561.18 421.00,561.19 421.25,561.20 421.50,561.21 421.75,561.22 422.00,561.23 422.25,561.24 422.50,561.25 422.75,561.26 423.00,561.27 423.25,561.28 423.50,561.29 423.75,561.30 424.00,561.31 424.25,561.32 424.50,561.33 424.75,561.34 425.00,561.35 425.25,561.36 425.50,561.37 425.75,561.38 426.00,561.39 426.25,561.40 426.50,561.41 426.75,561.42 427.00,561.43 427.25,561.44 427.50,561.45 427.75,561.46 428.00,561.47 428.25,561.48 428.50,561.49 428.75,561.50 429.00,561.51 429.25,561.52 429.50,561.53 429.75,561.54 430.00,561.55 430.25,561.56 430.50,561.57 430.75,561.58 431.00,561.59 431.25,561.60 431.50,561.61 431.75,561.62 432.00,561.63 432.25,561.64 432.50,561.65 432.75,561.66 433.00,561.67 433.25,561.68 433.50,561.69 433.75,561.70 434.00,561.71 434.25,561.72 434.50,561.73 434.75,561.74 435.00,561.75 435.25,561.76 435.50,561.76 435.75,561.77 436.00,561.78 436.25,561.78 436.50,561.79 436.75,561.80 437.00,561.80 437.25,561.81 437.50,561.82 437.75,561.82 438.00,561.83 438.25,561.84 438.50,561.84 438.75,561.85 439.00,561.86 439.25,561.86 439.50,561.87 439.75,561.88 440.00,561.89 440.25,561.89 440.50,561.90 440.75,561.91 441.00,561.91 441.25,561.92 441.50,561.93 441.75,561.93 442.00,561.94 442.25,561.95 442.50,561.95 442.75,561.96 443.00,561.97 443.25,561.97 443.50,561.98 443.75,561.99 444.00,561.99 444.25,562.00 444.50,562.01 444.75,562.01 445.00,562.02 445.25,562.03 445.50,562.03 445.75,562.04 446.00,562.05 446.25,562.05 446.50,562.06 446.75,562.07 447.00,562.07 447.25,562.08 447.50,562.09 447.75,562.09 448.00,562.10 448.25,562.11 448.50,562.11 448.75,562.12 449.00,562.13 449.25,562.14 449.50,562.14 449.75,562.15 450.00,562.16 450.25,562.16 450.50,562.17 450.75,562.18 451.00,562.18 451.25,562.19 451.50,562.20 451.75,562.20 452.00,562.21 452.25,562.22 452.50,562.22 452.75,562.23 453.00,562.24 453.25,562.24 453.50,562.25" fill="none" stroke="#f39a55" stroke-width="0.85" stroke-linejoin="round" />
<polyline points="130.50,503.85 130.75,503.92 131.00,503.99 131.25,504.06 131.50,504.13 131.75,504.20 132.00,504.27 132.25,504.34 132.50,504.41 132.75,504.48 133.00,504.55 133.25,504.62 133.50,504.69 133.75,504.76 134.00,504.83 134.25,504.90 134.50,504.97 134.75,505.04 135.00,505.11 135.25,505.18 135.50,505.25 135.75,505.32 136.00,505.39 136.25,505.46 136.50,505.53 136.75,505.60 137.00,505.67 137.25,505.74 137.50,505.81 137.75,505.88 138.00,505.95 138.25,506.02 138.50,506.09 138.75,506.16 139.00,506.23 139.25,506.30 139.50,506.37 139.75,506.44 140.00,506.51 140.25,506.57 140.50,506.64 140.75,506.71 141.00,506.78 141.25,506.85 141.50,506.92 141.75,506.99 142.00,507.06 142.25,507.13 142.50,507.20 142.75,507.27 143.00,507.34 143.25,507.41 143.50,507.48 143.75,507.55 144.00,507.62 144.25,507.69 144.50,507.76 144.75,507.83 145.00,507.90 145.25,507.97 145.50,508.04 145.75,508.11 146.00,508.18 146.25,508.25 146.50,508.32 146.75,508.39 147.00,508.46 147.25,508.53 147.50,508.60 147.75,508.67 148.00,508.74 148.25,508.81 148.50,508.88 148.75,508.95 149.00,509.02 149.25,509.09 149.50,509.16 149.75,509.23 150.00,509.30 150.25,509.37 150.50,509.44 150.75,509.51 151.00,509.57 151.25,509.64 151.50,509.71 151.75,509.78 152.00,509.85 152.25,509.92 152.50,509.99 152.75,510.06 153.00,510.12 153.25,510.19 153.50,510.26 153.75,510.33 154.00,510.40 154.25,510.47 154.50,510.54 154.75,510.61 155.00,510.68 155.25,510.74 155.50,510.81 155.75,510.88 156.00,510.95 156.25,511.02 156.50,511.09 156.75,511.16 157.00,511.23 157.25,511.29 157.50,511.36 157.75,511.43 158.00,511.50 158.25,511.57 158.50,511.64 158.75,511.71 159.00,511.78 159.25,511.84 159.50,511.91 159.75,511.98 160.00,512.05 160.25,512.12 160.50,512.19 160.75,512.26 161.00,512.33 161.25,512.39 161.50,512.46 161.75,512.53 162.00,512.60 162.25,512.67 162.50,512.74 162.75,512.81 163.00,512.88 163.25,512.94 163.50,513.01 163.75,513.08 164.00,513.15 164.25,513.22 164.50,513.29 164.75,513.36 165.00,513.43 165.25,513.49 165.50,513.56 165.75,513.63 166.00,513.70 166.25,513.77 166.50,513.84 166.75,513.91 167.00,513.98 167.25,514.04 167.50,514.11 167.75,514.18 168.00,514.25 168.25,514.32 168.50,514.39 168.75,514.46 169.00,514.52 169.25,514.59 169.50,514.66 169.75,514.73 170.00,514.80 170.25,514.87 170.50,514.94 170.75,515.01 171.00,515.07 171.25,515.14 171.50,515.21 171.75,515.28 172.00,515.35 172.25,515.42 172.50,515.49 172.75,515.56 173.00,515.62 173.25,515.69 173.50,515.76 173.75,515.82 174.00,515.87 174.25,515.91 174.50,515.94 174.75,515.94 175.00,515.90 175.25,515.83 175.50,515.72 175.75,515.58 176.00,515.42 176.25,515.28 176.50,515.16 176.75,515.11 177.00,515.14 177.25,515.25 177.50,515.45 177.75,515.71 178.00,516.00 178.25,516.30 178.50,516.58 178.75,516.83 179.00,517.05 179.25,517.22 179.50,517.36 179.75,517.48 180.00,517.58 180.25,517.66 180.50,517.74 180.75,517.82 181.00,517.89 181.25,517.97 181.50,518.04 181.75,518.11 182.00,518.18 182.25,518.26 182.50,518.33 182.75,518.40 183.00,518.47 183.25,518.54 183.50,518.62 183.75,518.69 184.00,518.76 184.25,518.83 184.50,518.91 184.75,518.98 185.00,519.05 185.25,519.12 185.50,519.19 185.75,519.27 186.00,519.34 186.25,519.41 186.50,519.48 186.75,519.56 187.00,519.63 187.25,519.70 187.50,519.77 187.75,519.84 188.00,519.90 188.25,519.95 188.50,519.98 188.75,519.97 189.00,519.91 189.25,519.82 189.50,519.73 189.75,519.67 190.00,519.69 190.25,519.82 190.50,520.02 190.75,520.26 191.00,520.49 191.25,520.69 191.50,520.84 191.75,520.96 192.00,521.06 192.25,521.14 192.50,521.22 192.75,521.29 193.00,521.36 193.25,521.43 193.50,521.51 193.75,521.58 194.00,521.65 194.25,521.72 194.50,521.79 194.75,521.87 195.00,521.94 195.25,522.01 195.50,522.08 195.75,522.16 196.00,522.23 196.25,522.30 196.50,522.37 196.75,522.44 197.00,522.52 197.25,522.59 197.50,522.66 197.75,522.73 198.00,522.81 198.25,522.88 198.50,522.95 198.75,523.02 199.00,523.09 199.25,523.17 199.50,523.24 199.75,523.31 200.00,523.38 200.25,523.46 200.50,523.53 200.75,523.60 201.00,523.67 201.25,523.74 201.50,523.82 201.75,523.89 202.00,523.96 202.25,524.03 202.50,524.11 202.75,524.18 203.00,524.25 203.25,524.32 203.50,524.39 203.75,524.47 204.00,524.54 204.25,524.61 204.50,524.68 204.75,524.76 205.00,524.83 205.25,524.90 205.50,524.97 205.75,525.04 206.00,525.12 206.25,525.19 206.50,525.26 206.75,525.33 207.00,525.41 207.25,525.48 207.50,525.55 207.75,525.60 208.00,525.66 208.25,525.71 208.50,525.76 208.75,525.79 209.00,525.77 209.25,525.66 209.50,525.38 209.75,524.87 210.00,524.15 210.25,523.39 210.50,522.83 210.75,522.72 211.00,523.14 211.25,523.92 211.50,524.80 211.75,525.55 212.00,526.08 212.25,526.39 212.50,526.56 212.75,526.66 213.00,526.72 213.25,526.78 213.50,526.84 213.75,526.89 214.00,526.94 214.25,527.00 214.50,527.05 214.75,527.10 215.00,527.16 215.25,527.21 215.50,527.26 215.75,527.32 216.00,527.37 216.25,527.43 216.50,527.48 216.75,527.53 217.00,527.59 217.25,527.64 217.50,527.69 217.75,527.75 218.00,527.80 218.25,527.86 218.50,527.92 218.75,527.99 219.00,528.05 219.25,528.10 219.50,528.14 219.75,528.13 220.00,528.05 220.25,527.86 220.50,527.61 220.75,527.40 221.00,527.35 221.25,527.52 221.50,527.86 221.75,528.24 222.00,528.55 222.25,528.76 222.50,528.89 222.75,528.98 223.00,529.04 223.25,529.10 223.50,529.13 223.75,529.12 224.00,529.01 224.25,528.78 224.50,528.48 224.75,528.22 225.00,528.15 225.25,528.34 225.50,528.73 225.75,529.16 226.00,529.51 226.25,529.74 226.50,529.88 226.75,529.98 227.00,530.05 227.25,530.11 227.50,530.17 227.75,530.24 228.00,530.30 228.25,530.36 228.50,530.42 228.75,530.49 229.00,530.55 229.25,530.61 229.50,530.68 229.75,530.74 230.00,530.80 230.25,530.86 230.50,530.93 230.75,530.99 231.00,531.05 231.25,531.11 231.50,531.17 231.75,531.24 232.00,531.30 232.25,531.36 232.50,531.42 232.75,531.49 233.00,531.55 233.25,531.61 233.50,531.67 233.75,531.74 234.00,531.80 234.25,531.86 234.50,531.92 234.75,531.99 235.00,532.05 235.25,532.11 235.50,532.17 235.75,532.23 236.00,532.28 236.25,532.33 236.50,532.36 236.75,532.38 237.00,532.38 237.25,532.36 237.50,532.31 237.75,532.24 238.00,532.16 238.25,532.08 238.50,532.03 238.75,532.01 239.00,532.05 239.25,532.14 239.50,532.28 239.75,532.46 240.00,532.66 240.25,532.86 240.50,533.05 240.75,533.22 241.00,533.36 241.25,533.48 241.50,533.58 241.75,533.67 242.00,533.74 242.25,533.81 242.50,533.87 242.75,533.93 243.00,533.99 243.25,534.05 243.50,534.10 243.75,534.16 244.00,534.22 244.25,534.28 244.50,534.33 244.75,534.39 245.00,534.45 245.25,534.51 245.50,534.56 245.75,534.62 246.00,534.68 246.25,534.73 246.50,534.77 246.75,534.79 247.00,534.77 247.25,534.68 247.50,534.49 247.75,534.21 248.00,533.88 248.25,533.61 248.50,533.47 248.75,533.55 249.00,533.84 249.25,534.25 249.50,534.68 249.75,535.06 250.00,535.35 250.25,535.54 250.50,535.67 250.75,535.75 251.00,535.82 251.25,535.89 251.50,535.94 251.75,536.00 252.00,536.06 252.25,536.12 252.50,536.17 252.75,536.23 253.00,536.29 253.25,536.35 253.50,536.40 253.75,536.46 254.00,536.52 254.25,536.58 254.50,536.64 254.75,536.69 255.00,535.00 257.70,533.60 260.40,534.30 261.80,534.00 262.90,530.20 263.60,511.20 264.10,470.50 264.60,384.90 265.20,429.70 265.90,484.00 266.50,518.00 267.20,527.50 268.60,530.90 269.90,534.30 271.30,537.00 272.70,533.00 273.75,526.20 274.70,530.20 275.40,534.30 276.50,530.90 277.40,535.00 278.80,537.00 280.10,538.40 281.50,537.00 282.90,535.70 284.20,537.00 285.60,534.30 286.90,530.20 287.60,528.20 288.30,533.00 289.20,538.40 290.60,541.80 292.50,543.00 292.75,543.75 293.00,543.80 293.25,543.85 293.50,543.90 293.75,543.95 294.00,544.00 294.25,544.05 294.50,544.10 294.75,544.15 295.00,544.20 295.25,544.25 295.50,544.30 295.75,544.35 296.00,544.40 296.25,544.45 296.50,544.50 296.75,544.55 297.00,544.60 297.25,544.65 297.50,544.70 297.75,544.75 298.00,544.80 298.25,544.85 298.50,544.90 298.75,544.95 299.00,545.00 299.25,545.05 299.50,545.10 299.75,545.15 300.00,545.20 300.25,545.25 300.50,545.30 300.75,545.35 301.00,545.40 301.25,545.45 301.50,545.50 301.75,545.55 302.00,545.60 302.25,545.65 302.50,545.70 302.75,545.75 303.00,545.80 303.25,545.85 303.50,545.90 303.75,545.95 304.00,546.00 304.25,546.05 304.50,546.10 304.75,546.15 305.00,546.20 305.25,546.25 305.50,546.30 305.75,546.35 306.00,546.40 306.25,546.45 306.50,546.50 306.75,546.55 307.00,546.60 307.25,546.65 307.50,546.70 307.75,546.75 308.00,546.80 308.25,546.85 308.50,546.90 308.75,546.95 309.00,547.00 309.25,547.05 309.50,547.10 309.75,547.15 310.00,547.20 310.25,547.24 310.50,547.29 310.75,547.33 311.00,547.37 311.25,547.41 311.50,547.46 311.75,547.50 312.00,547.54 312.25,547.58 312.50,547.62 312.75,547.67 313.00,547.71 313.25,547.75 313.50,547.80 313.75,547.84 314.00,547.88 314.25,547.92 314.50,547.97 314.75,548.01 315.00,548.05 315.25,548.09 315.50,548.13 315.75,548.18 316.00,548.22 316.25,548.26 316.50,548.31 316.75,548.35 317.00,548.39 317.25,548.43 317.50,548.48 317.75,548.52 318.00,548.56 318.25,548.60 318.50,548.65 318.75,548.69 319.00,548.73 319.25,548.77 319.50,548.82 319.75,548.86 320.00,548.90 320.25,548.94 320.50,548.99 320.75,549.03 321.00,549.07 321.25,549.11 321.50,549.16 321.75,549.20 322.00,549.24 322.25,549.28 322.50,549.33 322.75,549.37 323.00,549.41 323.25,549.45 323.50,549.50 323.75,549.54 324.00,549.58 324.25,549.62 324.50,549.67 324.75,549.71 325.00,549.75 325.25,549.79 325.50,549.84 325.75,549.88 326.00,549.92 326.25,549.96 326.50,550.00 326.75,550.05 327.00,550.09 327.25,550.13 327.50,550.17 327.75,550.22 328.00,550.26 328.25,550.30 328.50,550.34 328.75,550.39 329.00,550.42 329.25,550.46 329.50,550.47 329.75,550.45 330.00,550.37 330.25,550.22 330.50,549.97 330.75,549.68 331.00,549.41 331.25,549.25 331.50,549.27 331.75,549.48 332.00,549.82 332.25,550.21 332.50,550.55 332.75,550.81 333.00,550.99 333.25,551.10 333.50,551.18 333.75,551.23 334.00,551.28 334.25,551.32 334.50,551.36 334.75,551.41 335.00,551.45 335.25,551.49 335.50,551.52 335.75,551.56 336.00,551.60 336.25,551.64 336.50,551.67 336.75,551.71 337.00,551.75 337.25,551.79 337.50,551.82 337.75,551.86 338.00,551.90 338.25,551.94 338.50,551.97 338.75,552.01 339.00,552.05 339.25,552.08 339.50,552.11 339.75,552.14 340.00,552.14 340.25,552.13 340.50,552.09 340.75,552.01 341.00,551.90 341.25,551.78 341.50,551.67 341.75,551.60 342.00,551.60 342.25,551.68 342.50,551.82 342.75,552.00 343.00,552.20 343.25,552.38 343.50,552.54 343.75,552.66 344.00,552.74 344.25,552.81 344.50,552.86 344.75,552.91 345.00,552.95 345.25,552.99 345.50,553.02 345.75,553.06 346.00,553.10 346.25,553.14 346.50,553.17 346.75,553.21 347.00,553.25 347.25,553.29 347.50,553.32 347.75,553.36 348.00,553.40 348.25,553.44 348.50,553.47 348.75,553.51 349.00,553.55 349.25,553.59 349.50,553.62 349.75,553.66 350.00,553.70 350.25,553.74 350.50,553.78 350.75,553.81 351.00,553.85 351.25,553.89 351.50,553.93 351.75,553.96 352.00,554.00 352.25,554.04 352.50,554.08 352.75,554.11 353.00,554.15 353.25,554.19 353.50,554.23 353.75,554.26 354.00,554.30 354.25,554.34 354.50,554.38 354.75,554.41 355.00,554.45 355.25,554.49 355.50,554.53 355.75,554.56 356.00,554.60 356.25,554.64 356.50,554.68 356.75,554.71 357.00,554.75 357.25,554.79 357.50,554.83 357.75,554.86 358.00,554.90 358.25,554.94 358.50,554.98 358.75,555.01 359.00,555.05 359.25,555.09 359.50,555.12 359.75,555.16 360.00,555.20 360.25,555.23 360.50,555.27 360.75,555.30 361.00,555.33 361.25,555.36 361.50,555.40 361.75,555.43 362.00,555.46 362.25,555.49 362.50,555.53 362.75,555.56 363.00,555.59 363.25,555.62 363.50,555.66 363.75,555.69 364.00,555.72 364.25,555.75 364.50,555.79 364.75,555.82 365.00,555.85 365.25,555.88 365.50,555.92 365.75,555.95 366.00,555.98 366.25,556.01 366.50,556.05 366.75,556.08 367.00,556.11 367.25,556.14 367.50,556.18 367.75,556.21 368.00,556.24 368.25,556.27 368.50,556.31 368.75,556.34 369.00,556.37 369.25,556.40 369.50,556.44 369.75,556.47 370.00,556.50 370.25,556.53 370.50,556.57 370.75,556.60 371.00,556.63 371.25,556.66 371.50,556.70 371.75,556.73 372.00,556.76 372.25,556.79 372.50,556.83 372.75,556.86 373.00,556.89 373.25,556.92 373.50,556.96 373.75,556.99 374.00,557.02 374.25,557.05 374.50,557.09 374.75,557.12 375.00,557.15 375.25,557.18 375.50,557.22 375.75,557.25 376.00,557.28 376.25,557.31 376.50,557.35 376.75,557.38 377.00,557.41 377.25,557.44 377.50,557.48 377.75,557.51 378.00,557.54 378.25,557.57 378.50,557.61 378.75,557.64 379.00,557.67 379.25,557.70 379.50,557.74 379.75,557.77 380.00,557.80 380.25,557.83 380.50,557.87 380.75,557.90 381.00,557.93 381.25,557.96 381.50,558.00 381.75,558.03 382.00,558.06 382.25,558.09 382.50,558.12 382.75,558.16 383.00,558.19 383.25,558.22 383.50,558.25 383.75,558.29 384.00,558.32 384.25,558.35 384.50,558.38 384.75,558.42 385.00,558.45 385.25,558.47 385.50,558.50 385.75,558.52 386.00,558.54 386.25,558.56 386.50,558.59 386.75,558.61 387.00,558.63 387.25,558.65 387.50,558.68 387.75,558.70 388.00,558.72 388.25,558.74 388.50,558.77 388.75,558.79 389.00,558.81 389.25,558.83 389.50,558.86 389.75,558.88 390.00,558.90 390.25,558.92 390.50,558.95 390.75,558.97 391.00,558.99 391.25,559.01 391.50,559.04 391.75,559.06 392.00,559.08 392.25,559.10 392.50,559.12 392.75,559.15 393.00,559.17 393.25,559.19 393.50,559.22 393.75,559.24 394.00,559.26 394.25,559.28 394.50,559.31 394.75,559.33 395.00,559.35 395.25,559.37 395.50,559.40 395.75,559.42 396.00,559.44 396.25,559.46 396.50,559.49 396.75,559.51 397.00,559.53 397.25,559.55 397.50,559.58 397.75,559.60 398.00,559.62 398.25,559.64 398.50,559.67 398.75,559.69 399.00,559.71 399.25,559.73 399.50,559.75 399.75,559.78 400.00,559.80 400.25,559.82 400.50,559.85 400.75,559.87 401.00,559.89 401.25,559.91 401.50,559.94 401.75,559.96 402.00,559.98 402.25,560.00 402.50,560.03 402.75,560.05 403.00,560.07 403.25,560.09 403.50,560.12 403.75,560.14 404.00,560.16 404.25,560.18 404.50,560.21 404.75,560.23 405.00,560.25 405.25,560.27 405.50,560.30 405.75,560.32 406.00,560.34 406.25,560.36 406.50,560.38 406.75,560.41 407.00,560.43 407.25,560.45 407.50,560.48 407.75,560.50 408.00,560.52 408.25,560.54 408.50,560.57 408.75,560.59 409.00,560.61 409.25,560.63 409.50,560.66 409.75,560.68 410.00,560.70 410.25,560.71 410.50,560.72 410.75,560.73 411.00,560.74 411.25,560.75 411.50,560.76 411.75,560.77 412.00,560.78 412.25,560.79 412.50,560.80 412.75,560.81 413.00,560.82 413.25,560.83 413.50,560.84 413.75,560.85 414.00,560.86 414.25,560.87 414.50,560.88 414.75,560.89 415.00,560.90 415.25,560.91 415.50,560.92 415.75,560.93 416.00,560.94 416.25,560.95 416.50,560.96 416.75,560.97 417.00,560.98 417.25,560.99 417.50,561.00 417.75,561.01 418.00,561.02 418.25,561.03 418.50,561.04 418.75,561.05 419.00,561.06 419.25,561.07 419.50,561.08 419.75,561.09 420.00,561.10 420.25,561.11 420.50,561.12 420.75,561.13 421.00,561.14 421.25,561.15 421.50,561.16 421.75,561.17 422.00,561.18 422.25,561.19 422.50,561.20 422.75,561.21 423.00,561.22 423.25,561.23 423.50,561.24 423.75,561.25 424.00,561.26 424.25,561.27 424.50,561.28 424.75,561.29 425.00,561.30 425.25,561.31 425.50,561.32 425.75,561.33 426.00,561.34 426.25,561.35 426.50,561.36 426.75,561.37 427.00,561.38 427.25,561.39 427.50,561.40 427.75,561.41 428.00,561.42 428.25,561.43 428.50,561.44 428.75,561.45 429.00,561.46 429.25,561.47 429.50,561.48 429.75,561.49 430.00,561.50 430.25,561.51 430.50,561.52 430.75,561.53 431.00,561.54 431.25,561.55 431.50,561.56 431.75,561.57 432.00,561.58 432.25,561.59 432.50,561.60 432.75,561.61 433.00,561.62 433.25,561.63 433.50,561.64 433.75,561.65 434.00,561.66 434.25,561.67 434.50,561.68 434.75,561.69 435.00,561.70 435.25,561.71 435.50,561.71 435.75,561.72 436.00,561.73 436.25,561.73 436.50,561.74 436.75,561.75 437.00,561.75 437.25,561.76 437.50,561.77 437.75,561.77 438.00,561.78 438.25,561.79 438.50,561.79 438.75,561.80 439.00,561.81 439.25,561.81 439.50,561.82 439.75,561.83 440.00,561.84 440.25,561.84 440.50,561.85 440.75,561.86 441.00,561.86 441.25,561.87 441.50,561.88 441.75,561.88 442.00,561.89 442.25,561.90 442.50,561.90 442.75,561.91 443.00,561.92 443.25,561.92 443.50,561.93 443.75,561.94 444.00,561.94 444.25,561.95 444.50,561.96 444.75,561.96 445.00,561.97 445.25,561.98 445.50,561.98 445.75,561.99 446.00,562.00 446.25,562.00 446.50,562.01 446.75,562.02 447.00,562.02 447.25,562.03 447.50,562.04 447.75,562.04 448.00,562.05 448.25,562.06 448.50,562.06 448.75,562.07 449.00,562.08 449.25,562.09 449.50,562.09 449.75,562.10 450.00,562.11 450.25,562.11 450.50,562.12 450.75,562.13 451.00,562.13 451.25,562.14 451.50,562.15 451.75,562.15 452.00,562.16 452.25,562.17 452.50,562.17 452.75,562.18 453.00,562.19 453.25,562.19 453.50,562.20" fill="none" stroke="#d9474f" stroke-width="0.85" stroke-linejoin="round" />
<polyline points="63.00,504.30 68.10,504.30 68.80,520.50 69.60,545.10 70.70,528.50 71.60,512.50 72.60,502.50 73.60,490.50 74.60,467.90 75.60,465.90 76.70,437.50 78.70,380.50 79.15,267.20" fill="none" stroke="#d9474f" stroke-width="0.9" stroke-linejoin="round" />
<polyline points="83.55,266.70 84.60,400.00 85.70,459.30 87.70,437.00 90.40,406.40 91.80,441.00 92.80,483.70 93.80,486.00 96.90,496.90 102.00,500.30 104.10,500.60 105.00,497.50 106.20,493.20 107.60,499.80 110.00,501.20 110.30,501.10 121.30,502.40 124.30,501.00 126.40,498.40 129.05,502.75" fill="none" stroke="#d9474f" stroke-width="0.9" stroke-linejoin="round" />
<polyline points="62.60,503.80 67.70,503.80 68.40,520.00 69.20,544.60 70.30,528.00 71.20,512.00 72.20,502.00 73.20,490.00 74.20,467.40 75.20,465.40 76.30,437.00 78.30,380.00 78.75,266.70" fill="none" stroke="#262626" stroke-width="1.0" stroke-linejoin="round" />
<polyline points="83.25,266.70 84.30,400.00 85.40,459.30 87.40,437.00 90.10,406.40 91.50,441.00 92.50,483.70 93.50,486.00 96.60,496.90 101.70,500.30 103.80,500.60 110.00,501.10 121.00,502.40 124.00,501.00 126.10,498.40 128.75,502.75 130.50,504.15 130.75,504.22 131.00,504.29 131.25,504.36 131.50,504.43 131.75,504.50 132.00,504.57 132.25,504.64 132.50,504.71 132.75,504.78 133.00,504.85 133.25,504.92 133.50,504.99 133.75,505.06 134.00,505.13 134.25,505.20 134.50,505.27 134.75,505.34 135.00,505.41 135.25,505.48 135.50,505.55 135.75,505.62 136.00,505.69 136.25,505.76 136.50,505.83 136.75,505.90 137.00,505.97 137.25,506.04 137.50,506.11 137.75,506.18 138.00,506.25 138.25,506.32 138.50,506.39 138.75,506.46 139.00,506.53 139.25,506.60 139.50,506.67 139.75,506.74 140.00,506.81 140.25,506.88 140.50,506.94 140.75,507.01 141.00,507.08 141.25,507.15 141.50,507.22 141.75,507.29 142.00,507.36 142.25,507.43 142.50,507.50 142.75,507.57 143.00,507.64 143.25,507.71 143.50,507.78 143.75,507.85 144.00,507.92 144.25,507.99 144.50,508.06 144.75,508.13 145.00,508.20 145.25,508.27 145.50,508.34 145.75,508.41 146.00,508.48 146.25,508.55 146.50,508.62 146.75,508.69 147.00,508.76 147.25,508.83 147.50,508.90 147.75,508.97 148.00,509.04 148.25,509.11 148.50,509.18 148.75,509.25 149.00,509.32 149.25,509.39 149.50,509.46 149.75,509.53 150.00,509.60 150.25,509.67 150.50,509.74 150.75,509.81 151.00,509.88 151.25,509.94 151.50,510.01 151.75,510.08 152.00,510.15 152.25,510.22 152.50,510.29 152.75,510.36 153.00,510.43 153.25,510.49 153.50,510.56 153.75,510.63 154.00,510.70 154.25,510.77 154.50,510.84 154.75,510.91 155.00,510.98 155.25,511.04 155.50,511.11 155.75,511.18 156.00,511.25 156.25,511.32 156.50,511.39 156.75,511.46 157.00,511.53 157.25,511.59 157.50,511.66 157.75,511.73 158.00,511.80 158.25,511.87 158.50,511.94 158.75,512.01 159.00,512.08 159.25,512.14 159.50,512.21 159.75,512.28 160.00,512.35 160.25,512.42 160.50,512.49 160.75,512.56 161.00,512.62 161.25,512.69 161.50,512.76 161.75,512.83 162.00,512.90 162.25,512.97 162.50,513.04 162.75,513.11 163.00,513.17 163.25,513.24 163.50,513.31 163.75,513.38 164.00,513.45 164.25,513.52 164.50,513.59 164.75,513.66 165.00,513.73 165.25,513.79 165.50,513.86 165.75,513.93 166.00,514.00 166.25,514.07 166.50,514.14 166.75,514.21 167.00,514.27 167.25,514.34 167.50,514.41 167.75,514.48 168.00,514.55 168.25,514.62 168.50,514.69 168.75,514.76 169.00,514.83 169.25,514.89 169.50,514.96 169.75,515.03 170.00,515.10 170.25,515.17 170.50,515.24 170.75,515.31 171.00,515.38 171.25,515.44 171.50,515.51 171.75,515.58 172.00,515.65 172.25,515.72 172.50,515.79 172.75,515.86 173.00,515.92 173.25,515.99 173.50,516.06 173.75,516.13 174.00,516.20 174.25,516.27 174.50,516.34 174.75,516.41 175.00,516.48 175.25,516.54 175.50,516.61 175.75,516.68 176.00,516.75 176.25,516.82 176.50,516.89 176.75,516.97 177.00,517.04 177.25,517.11 177.50,517.18 177.75,517.26 178.00,517.33 178.25,517.40 178.50,517.47 178.75,517.54 179.00,517.62 179.25,517.69 179.50,517.76 179.75,517.83 180.00,517.91 180.25,517.98 180.50,518.05 180.75,518.12 181.00,518.19 181.25,518.27 181.50,518.34 181.75,518.41 182.00,518.48 182.25,518.56 182.50,518.63 182.75,518.70 183.00,518.77 183.25,518.84 183.50,518.92 183.75,518.99 184.00,519.06 184.25,519.13 184.50,519.21 184.75,519.28 185.00,519.35 185.25,519.42 185.50,519.49 185.75,519.57 186.00,519.64 186.25,519.71 186.50,519.78 186.75,519.86 187.00,519.93 187.25,520.00 187.50,520.07 187.75,520.14 188.00,520.22 188.25,520.29 188.50,520.36 188.75,520.43 189.00,520.51 189.25,520.58 189.50,520.65 189.75,520.72 190.00,520.79 190.25,520.87 190.50,520.94 190.75,521.01 191.00,521.08 191.25,521.16 191.50,521.23 191.75,521.30 192.00,521.37 192.25,521.44 192.50,521.52 192.75,521.59 193.00,521.66 193.25,521.73 193.50,521.81 193.75,521.88 194.00,521.95 194.25,522.02 194.50,522.09 194.75,522.17 195.00,522.24 195.25,522.31 195.50,522.38 195.75,522.46 196.00,522.53 196.25,522.60 196.50,522.67 196.75,522.74 197.00,522.82 197.25,522.89 197.50,522.96 197.75,523.03 198.00,523.11 198.25,523.18 198.50,523.25 198.75,523.32 199.00,523.39 199.25,523.47 199.50,523.54 199.75,523.61 200.00,523.68 200.25,523.76 200.50,523.83 200.75,523.90 201.00,523.97 201.25,524.04 201.50,524.12 201.75,524.19 202.00,524.26 202.25,524.33 202.50,524.41 202.75,524.48 203.00,524.55 203.25,524.62 203.50,524.69 203.75,524.77 204.00,524.84 204.25,524.91 204.50,524.98 204.75,525.06 205.00,525.13 205.25,525.20 205.50,525.27 205.75,525.34 206.00,525.42 206.25,525.49 206.50,525.56 206.75,525.63 207.00,525.71 207.25,525.78 207.50,525.85 207.75,525.90 208.00,525.96 208.25,526.01 208.50,526.06 208.75,526.12 209.00,526.17 209.25,526.23 209.50,526.28 209.75,526.33 210.00,526.39 210.25,526.44 210.50,526.49 210.75,526.55 211.00,526.60 211.25,526.65 211.50,526.71 211.75,526.76 212.00,526.81 212.25,526.87 212.50,526.92 212.75,526.98 213.00,527.03 213.25,527.08 213.50,527.14 213.75,527.19 214.00,527.24 214.25,527.30 214.50,527.35 214.75,527.40 215.00,527.46 215.25,527.51 215.50,527.56 215.75,527.62 216.00,527.67 216.25,527.73 216.50,527.78 216.75,527.83 217.00,527.89 217.25,527.94 217.50,527.99 217.75,528.05 218.00,528.10 218.25,528.16 218.50,528.23 218.75,528.29 219.00,528.35 219.25,528.41 219.50,528.48 219.75,528.54 220.00,528.60 220.25,528.66 220.50,528.73 220.75,528.79 221.00,528.85 221.25,528.91 221.50,528.98 221.75,529.04 222.00,529.10 222.25,529.16 222.50,529.23 222.75,529.29 223.00,529.35 223.25,529.41 223.50,529.48 223.75,529.54 224.00,529.60 224.25,529.66 224.50,529.73 224.75,529.79 225.00,529.85 225.25,529.91 225.50,529.98 225.75,530.04 226.00,530.10 226.25,530.16 226.50,530.23 226.75,530.29 227.00,530.35 227.25,530.41 227.50,530.48 227.75,530.54 228.00,530.60 228.25,530.66 228.50,530.73 228.75,530.79 229.00,530.85 229.25,530.91 229.50,530.98 229.75,531.04 230.00,531.10 230.25,531.16 230.50,531.23 230.75,531.29 231.00,531.35 231.25,531.41 231.50,531.48 231.75,531.54 232.00,531.60 232.25,531.66 232.50,531.73 232.75,531.79 233.00,531.85 233.25,531.91 233.50,531.98 233.75,532.04 234.00,532.10 234.25,532.16 234.50,532.23 234.75,532.29 235.00,532.35 235.25,532.41 235.50,532.48 235.75,532.54 236.00,532.60 236.25,532.66 236.50,532.73 236.75,532.79 237.00,532.85 237.25,532.91 237.50,532.98 237.75,533.04 238.00,533.10 238.25,533.16 238.50,533.23 238.75,533.29 239.00,533.35 239.25,533.41 239.50,533.48 239.75,533.54 240.00,533.60 240.25,533.66 240.50,533.72 240.75,533.77 241.00,533.83 241.25,533.89 241.50,533.95 241.75,534.00 242.00,534.06 242.25,534.12 242.50,534.18 242.75,534.23 243.00,534.29 243.25,534.35 243.50,534.40 243.75,534.46 244.00,534.52 244.25,534.58 244.50,534.63 244.75,534.69 245.00,534.75 245.25,534.81 245.50,534.87 245.75,534.92 246.00,534.98 246.25,535.04 246.50,535.10 246.75,535.15 247.00,535.21 247.25,535.27 247.50,535.33 247.75,535.38 248.00,535.44 248.25,535.50 248.50,535.56 248.75,535.61 249.00,535.67 249.25,535.73 249.50,535.79 249.75,535.84 250.00,535.90 250.25,535.96 250.50,536.01 250.75,536.07 251.00,536.13 251.25,536.19 251.50,536.25 251.75,536.30 252.00,536.36 252.25,536.42 252.50,536.48 252.75,536.53 253.00,536.59 253.25,536.65 253.50,536.71 253.75,536.76 254.00,536.82 254.25,536.88 254.50,536.94 254.75,536.99 255.00,537.05 255.25,537.11 255.50,537.17 255.75,537.22 256.00,537.28 256.25,537.34 256.50,537.40 256.75,537.45 257.00,537.51 257.25,537.57 257.50,537.62 257.75,537.68 258.00,537.74 258.25,537.80 258.50,537.86 258.75,537.91 259.00,537.97 259.25,538.03 259.50,538.09 259.75,538.14 260.00,538.20 260.25,538.24 260.50,538.29 260.75,538.33 261.00,538.37 261.25,538.42 261.50,538.46 261.75,538.50 262.00,538.54 262.25,538.59 262.50,538.63 262.75,538.67 263.00,538.72 263.25,538.76 263.50,538.80 263.75,538.85 264.00,538.89 264.25,538.93 264.50,538.97 264.75,539.02 265.00,539.06 265.25,539.10 265.50,539.15 265.75,539.19 266.00,539.23 266.25,539.28 266.50,539.32 266.75,539.36 267.00,539.40 267.25,539.45 267.50,539.49 267.75,539.53 268.00,539.58 268.25,539.62 268.50,539.66 268.75,539.71 269.00,539.75 269.25,539.79 269.50,539.83 269.75,539.88 270.00,539.92 270.25,539.96 270.50,540.01 270.75,540.05 271.00,540.09 271.25,540.13 271.50,540.18 271.75,540.22 272.00,540.26 272.25,540.31 272.50,540.35 272.75,540.39 273.00,540.44 273.25,540.48 273.50,540.52 273.75,540.57 274.00,540.61 274.25,540.65 274.50,540.69 274.75,540.74 275.00,540.78 275.25,540.82 275.50,540.87 275.75,540.91 276.00,540.95 276.25,541.00 276.50,541.04 276.75,541.08 277.00,541.12 277.25,541.17 277.50,541.21 277.75,541.25 278.00,541.30 278.25,541.34 278.50,541.38 278.75,541.42 279.00,541.47 279.25,541.51 279.50,541.55 279.75,541.60 280.00,541.64 280.25,541.68 280.50,541.73 280.75,541.77 281.00,541.81 281.25,541.86 281.50,541.90 281.75,541.94 282.00,541.98 282.25,542.03 282.50,542.07 282.75,542.11 283.00,542.16 283.25,542.20 283.50,542.24 283.75,542.28 284.00,542.33 284.25,542.37 284.50,542.41 284.75,542.46 285.00,542.50 285.25,542.55 285.50,542.60 285.75,542.65 286.00,542.70 286.25,542.75 286.50,542.80 286.75,542.85 287.00,542.90 287.25,542.95 287.50,543.00 287.75,543.05 288.00,543.10 288.25,543.15 288.50,543.20 288.75,543.25 289.00,543.30 289.25,543.35 289.50,543.40 289.75,543.45 290.00,543.50 290.25,543.55 290.50,543.60 290.75,543.65 291.00,543.70 291.25,543.75 291.50,543.80 291.75,543.85 292.00,543.90 292.25,543.95 292.50,544.00 292.75,544.05 293.00,544.10 293.25,544.15 293.50,544.20 293.75,544.25 294.00,544.30 294.25,544.35 294.50,544.40 294.75,544.45 295.00,544.50 295.25,544.55 295.50,544.60 295.75,544.65 296.00,544.70 296.25,544.75 296.50,544.80 296.75,544.85 297.00,544.90 297.25,544.95 297.50,545.00 297.75,545.05 298.00,545.10 298.25,545.15 298.50,545.20 298.75,545.25 299.00,545.30 299.25,545.35 299.50,545.40 299.75,545.45 300.00,545.50 300.25,545.55 300.50,545.60 300.75,545.65 301.00,545.70 301.25,545.75 301.50,545.80 301.75,545.85 302.00,545.90 302.25,545.95 302.50,546.00 302.75,546.05 303.00,546.10 303.25,546.15 303.50,546.20 303.75,546.25 304.00,546.30 304.25,546.35 304.50,546.40 304.75,546.45 305.00,546.50 305.25,546.55 305.50,546.60 305.75,546.65 306.00,546.70 306.25,546.75 306.50,546.80 306.75,546.85 307.00,546.90 307.25,546.95 307.50,547.00 307.75,547.05 308.00,547.10 308.25,547.15 308.50,547.20 308.75,547.25 309.00,547.30 309.25,547.35 309.50,547.40 309.75,547.45 310.00,547.50 310.25,547.54 310.50,547.59 310.75,547.63 311.00,547.67 311.25,547.71 311.50,547.75 311.75,547.80 312.00,547.84 312.25,547.88 312.50,547.92 312.75,547.97 313.00,548.01 313.25,548.05 313.50,548.10 313.75,548.14 314.00,548.18 314.25,548.22 314.50,548.26 314.75,548.31 315.00,548.35 315.25,548.39 315.50,548.43 315.75,548.48 316.00,548.52 316.25,548.56 316.50,548.61 316.75,548.65 317.00,548.69 317.25,548.73 317.50,548.77 317.75,548.82 318.00,548.86 318.25,548.90 318.50,548.95 318.75,548.99 319.00,549.03 319.25,549.07 319.50,549.12 319.75,549.16 320.00,549.20 320.25,549.24 320.50,549.28 320.75,549.33 321.00,549.37 321.25,549.41 321.50,549.46 321.75,549.50 322.00,549.54 322.25,549.58 322.50,549.62 322.75,549.67 323.00,549.71 323.25,549.75 323.50,549.79 323.75,549.84 324.00,549.88 324.25,549.92 324.50,549.97 324.75,550.01 325.00,550.05 325.25,550.09 325.50,550.13 325.75,550.18 326.00,550.22 326.25,550.26 326.50,550.30 326.75,550.35 327.00,550.39 327.25,550.43 327.50,550.48 327.75,550.52 328.00,550.56 328.25,550.60 328.50,550.64 328.75,550.69 329.00,550.73 329.25,550.77 329.50,550.82 329.75,550.86 330.00,550.90 330.25,550.94 330.50,550.99 330.75,551.03 331.00,551.07 331.25,551.11 331.50,551.15 331.75,551.20 332.00,551.24 332.25,551.28 332.50,551.33 332.75,551.37 333.00,551.41 333.25,551.45 333.50,551.50 333.75,551.54 334.00,551.58 334.25,551.62 334.50,551.66 334.75,551.71 335.00,551.75 335.25,551.79 335.50,551.83 335.75,551.86 336.00,551.90 336.25,551.94 336.50,551.98 336.75,552.01 337.00,552.05 337.25,552.09 337.50,552.12 337.75,552.16 338.00,552.20 338.25,552.24 338.50,552.27 338.75,552.31 339.00,552.35 339.25,552.39 339.50,552.42 339.75,552.46 340.00,552.50 340.25,552.54 340.50,552.58 340.75,552.61 341.00,552.65 341.25,552.69 341.50,552.73 341.75,552.76 342.00,552.80 342.25,552.84 342.50,552.88 342.75,552.91 343.00,552.95 343.25,552.99 343.50,553.02 343.75,553.06 344.00,553.10 344.25,553.14 344.50,553.17 344.75,553.21 345.00,553.25 345.25,553.29 345.50,553.33 345.75,553.36 346.00,553.40 346.25,553.44 346.50,553.48 346.75,553.51 347.00,553.55 347.25,553.59 347.50,553.62 347.75,553.66 348.00,553.70 348.25,553.74 348.50,553.77 348.75,553.81 349.00,553.85 349.25,553.89 349.50,553.92 349.75,553.96 350.00,554.00 350.25,554.04 350.50,554.08 350.75,554.11 351.00,554.15 351.25,554.19 351.50,554.23 351.75,554.26 352.00,554.30 352.25,554.34 352.50,554.38 352.75,554.41 353.00,554.45 353.25,554.49 353.50,554.52 353.75,554.56 354.00,554.60 354.25,554.64 354.50,554.67 354.75,554.71 355.00,554.75 355.25,554.79 355.50,554.83 355.75,554.86 356.00,554.90 356.25,554.94 356.50,554.98 356.75,555.01 357.00,555.05 357.25,555.09 357.50,555.12 357.75,555.16 358.00,555.20 358.25,555.24 358.50,555.27 358.75,555.31 359.00,555.35 359.25,555.39 359.50,555.42 359.75,555.46 360.00,555.50 360.25,555.53 360.50,555.57 360.75,555.60 361.00,555.63 361.25,555.66 361.50,555.70 361.75,555.73 362.00,555.76 362.25,555.79 362.50,555.83 362.75,555.86 363.00,555.89 363.25,555.92 363.50,555.96 363.75,555.99 364.00,556.02 364.25,556.05 364.50,556.09 364.75,556.12 365.00,556.15 365.25,556.18 365.50,556.22 365.75,556.25 366.00,556.28 366.25,556.31 366.50,556.35 366.75,556.38 367.00,556.41 367.25,556.44 367.50,556.48 367.75,556.51 368.00,556.54 368.25,556.57 368.50,556.61 368.75,556.64 369.00,556.67 369.25,556.70 369.50,556.74 369.75,556.77 370.00,556.80 370.25,556.83 370.50,556.87 370.75,556.90 371.00,556.93 371.25,556.96 371.50,557.00 371.75,557.03 372.00,557.06 372.25,557.09 372.50,557.12 372.75,557.16 373.00,557.19 373.25,557.22 373.50,557.25 373.75,557.29 374.00,557.32 374.25,557.35 374.50,557.38 374.75,557.42 375.00,557.45 375.25,557.48 375.50,557.51 375.75,557.55 376.00,557.58 376.25,557.61 376.50,557.64 376.75,557.68 377.00,557.71 377.25,557.74 377.50,557.77 377.75,557.81 378.00,557.84 378.25,557.87 378.50,557.90 378.75,557.94 379.00,557.97 379.25,558.00 379.50,558.03 379.75,558.07 380.00,558.10 380.25,558.13 380.50,558.16 380.75,558.20 381.00,558.23 381.25,558.26 381.50,558.29 381.75,558.33 382.00,558.36 382.25,558.39 382.50,558.42 382.75,558.46 383.00,558.49 383.25,558.52 383.50,558.55 383.75,558.59 384.00,558.62 384.25,558.65 384.50,558.68 384.75,558.72 385.00,558.75 385.25,558.77 385.50,558.79 385.75,558.82 386.00,558.84 386.25,558.86 386.50,558.88 386.75,558.91 387.00,558.93 387.25,558.95 387.50,558.98 387.75,559.00 388.00,559.02 388.25,559.04 388.50,559.07 388.75,559.09 389.00,559.11 389.25,559.13 389.50,559.15 389.75,559.18 390.00,559.20 390.25,559.22 390.50,559.25 390.75,559.27 391.00,559.29 391.25,559.31 391.50,559.34 391.75,559.36 392.00,559.38 392.25,559.40 392.50,559.42 392.75,559.45 393.00,559.47 393.25,559.49 393.50,559.51 393.75,559.54 394.00,559.56 394.25,559.58 394.50,559.61 394.75,559.63 395.00,559.65 395.25,559.67 395.50,559.70 395.75,559.72 396.00,559.74 396.25,559.76 396.50,559.78 396.75,559.81 397.00,559.83 397.25,559.85 397.50,559.88 397.75,559.90 398.00,559.92 398.25,559.94 398.50,559.97 398.75,559.99 399.00,560.01 399.25,560.03 399.50,560.05 399.75,560.08 400.00,560.10 400.25,560.12 400.50,560.14 400.75,560.17 401.00,560.19 401.25,560.21 401.50,560.24 401.75,560.26 402.00,560.28 402.25,560.30 402.50,560.33 402.75,560.35 403.00,560.37 403.25,560.39 403.50,560.41 403.75,560.44 404.00,560.46 404.25,560.48 404.50,560.50 404.75,560.53 405.00,560.55 405.25,560.57 405.50,560.60 405.75,560.62 406.00,560.64 406.25,560.66 406.50,560.68 406.75,560.71 407.00,560.73 407.25,560.75 407.50,560.77 407.75,560.80 408.00,560.82 408.25,560.84 408.50,560.87 408.75,560.89 409.00,560.91 409.25,560.93 409.50,560.96 409.75,560.98 410.00,561.00 410.25,561.01 410.50,561.02 410.75,561.03 411.00,561.04 411.25,561.05 411.50,561.06 411.75,561.07 412.00,561.08 412.25,561.09 412.50,561.10 412.75,561.11 413.00,561.12 413.25,561.13 413.50,561.14 413.75,561.15 414.00,561.16 414.25,561.17 414.50,561.18 414.75,561.19 415.00,561.20 415.25,561.21 415.50,561.22 415.75,561.23 416.00,561.24 416.25,561.25 416.50,561.26 416.75,561.27 417.00,561.28 417.25,561.29 417.50,561.30 417.75,561.31 418.00,561.32 418.25,561.33 418.50,561.34 418.75,561.35 419.00,561.36 419.25,561.37 419.50,561.38 419.75,561.39 420.00,561.40 420.25,561.41 420.50,561.42 420.75,561.43 421.00,561.44 421.25,561.45 421.50,561.46 421.75,561.47 422.00,561.48 422.25,561.49 422.50,561.50 422.75,561.51 423.00,561.52 423.25,561.53 423.50,561.54 423.75,561.55 424.00,561.56 424.25,561.57 424.50,561.58 424.75,561.59 425.00,561.60 425.25,561.61 425.50,561.62 425.75,561.63 426.00,561.64 426.25,561.65 426.50,561.66 426.75,561.67 427.00,561.68 427.25,561.69 427.50,561.70 427.75,561.71 428.00,561.72 428.25,561.73 428.50,561.74 428.75,561.75 429.00,561.76 429.25,561.77 429.50,561.78 429.75,561.79 430.00,561.80 430.25,561.81 430.50,561.82 430.75,561.83 431.00,561.84 431.25,561.85 431.50,561.86 431.75,561.87 432.00,561.88 432.25,561.89 432.50,561.90 432.75,561.91 433.00,561.92 433.25,561.93 433.50,561.94 433.75,561.95 434.00,561.96 434.25,561.97 434.50,561.98 434.75,561.99 435.00,562.00 435.25,562.01 435.50,562.01 435.75,562.02 436.00,562.03 436.25,562.03 436.50,562.04 436.75,562.05 437.00,562.05 437.25,562.06 437.50,562.07 437.75,562.07 438.00,562.08 438.25,562.09 438.50,562.09 438.75,562.10 439.00,562.11 439.25,562.11 439.50,562.12 439.75,562.13 440.00,562.14 440.25,562.14 440.50,562.15 440.75,562.16 441.00,562.16 441.25,562.17 441.50,562.18 441.75,562.18 442.00,562.19 442.25,562.20 442.50,562.20 442.75,562.21 443.00,562.22 443.25,562.22 443.50,562.23 443.75,562.24 444.00,562.24 444.25,562.25 444.50,562.26 444.75,562.26 445.00,562.27 445.25,562.28 445.50,562.28 445.75,562.29 446.00,562.30 446.25,562.30 446.50,562.31 446.75,562.32 447.00,562.32 447.25,562.33 447.50,562.34 447.75,562.34 448.00,562.35 448.25,562.36 448.50,562.36 448.75,562.37 449.00,562.38 449.25,562.39 449.50,562.39 449.75,562.40 450.00,562.41 450.25,562.41 450.50,562.42 450.75,562.43 451.00,562.43 451.25,562.44 451.50,562.45 451.75,562.45 452.00,562.46 452.25,562.47 452.50,562.47 452.75,562.48 453.00,562.49 453.25,562.49 453.50,562.50" fill="none" stroke="#262626" stroke-width="1.1" stroke-linejoin="round" />
<line x1="259.35" y1="358.50" x2="262.60" y2="377.60" stroke="#ee8a8a" stroke-width="0.8" />
<line x1="291.00" y1="411.90" x2="278.80" y2="438.60" stroke="#f7b285" stroke-width="0.8" />
<rect x="95.35" y="302.25" width="164.0" height="56.2" fill="none" stroke="#ee8f8f" stroke-width="1"/>
<rect x="291.0" y="355.3" width="159.6" height="56.6" fill="none" stroke="#f7b88d" stroke-width="1"/>
<polyline points="125.50,306.75 131.10,303.40 137.30,306.75 142.90,303.40 149.10,306.75 149.10,314.10" fill="none" stroke="#6b6b6b" stroke-width="0.55" stroke-linejoin="round" />
<polyline points="96.25,316.90 101.90,314.10 107.50,316.90 113.70,314.10 119.30,316.90 125.50,314.10 131.10,316.90 137.30,314.10 143.50,316.90 149.10,314.10 154.75,316.90" fill="none" stroke="#6b6b6b" stroke-width="0.55" stroke-linejoin="round" />
<line x1="154.75" y1="316.90" x2="159.00" y2="314.30" stroke="#6b6b6b" stroke-width="0.55" />
<line x1="154.30" y1="315.40" x2="158.60" y2="312.80" stroke="#6b6b6b" stroke-width="0.55" />
<text x="159.20" y="316.00" font-size="4.6" fill="#6b6b6b">O</text>
<line x1="154.75" y1="316.90" x2="154.75" y2="321.90" stroke="#6b6b6b" stroke-width="0.55" />
<text x="153.00" y="326.00" font-size="4.6" fill="#6b6b6b">O</text>
<polyline points="156.60,325.20 160.40,327.00 166.00,324.20 171.60,327.00 177.20,324.20 182.80,327.00 188.40,324.20 191.40,332.00" fill="none" stroke="#6b6b6b" stroke-width="0.55" stroke-linejoin="round" />
<polyline points="156.60,337.00 160.40,333.75 166.00,336.60 171.60,333.75 177.20,336.60 182.80,333.75 188.40,336.60 191.40,332.00" fill="none" stroke="#6b6b6b" stroke-width="0.55" stroke-linejoin="round" />
<text x="153.00" y="339.60" font-size="4.6" fill="#6b6b6b">O</text>
<line x1="154.75" y1="339.80" x2="154.75" y2="343.90" stroke="#6b6b6b" stroke-width="0.55" />
<line x1="154.75" y1="343.90" x2="159.00" y2="346.50" stroke="#6b6b6b" stroke-width="0.55" />
<line x1="154.30" y1="345.40" x2="158.60" y2="348.00" stroke="#6b6b6b" stroke-width="0.55" />
<text x="159.20" y="349.60" font-size="4.6" fill="#6b6b6b">O</text>
<polyline points="96.25,343.90 101.90,347.25 107.50,343.90 113.70,347.25 119.30,343.90 125.50,347.25 131.10,343.90 137.30,347.25 143.50,343.90 149.10,347.25 154.75,343.90" fill="none" stroke="#6b6b6b" stroke-width="0.55" stroke-linejoin="round" />
<polyline points="149.10,347.25 149.10,354.60 143.50,357.90 137.30,354.60 131.10,357.90 125.50,354.60" fill="none" stroke="#6b6b6b" stroke-width="0.55" stroke-linejoin="round" />
<line x1="191.40" y1="332.00" x2="193.00" y2="326.60" stroke="#6b6b6b" stroke-width="0.55" />
<text x="193.00" y="326.60" font-size="4.6" fill="#6b6b6b">OH</text>
<polyline points="191.40,332.00 197.60,333.50 203.75,330.40 209.40,333.50 215.60,329.80" fill="none" stroke="#6b6b6b" stroke-width="0.55" stroke-linejoin="round" />
<line x1="215.60" y1="329.80" x2="219.60" y2="332.40" stroke="#ec6a6a" stroke-width="0.55" />
<line x1="215.20" y1="331.30" x2="219.00" y2="333.60" stroke="#ec6a6a" stroke-width="0.55" />
<text x="219.40" y="335.60" font-size="4.6" fill="#ec6a6a">N</text>
<line x1="222.60" y1="333.00" x2="225.00" y2="331.60" stroke="#ec6a6a" stroke-width="0.55" />
<text x="225.00" y="328.20" font-size="4.6" fill="#ec6a6a">H</text>
<text x="225.00" y="332.80" font-size="4.6" fill="#ec6a6a">N</text>
<line x1="228.60" y1="331.40" x2="233.00" y2="332.60" stroke="#ec6a6a" stroke-width="0.55" />
<polyline points="233.00,332.60 238.60,329.40 244.25,332.60 244.25,340.00 238.60,343.30 233.00,340.00 233.00,332.60" fill="none" stroke="#ec6a6a" stroke-width="0.55" stroke-linejoin="round" />
<line x1="234.30" y1="333.60" x2="234.30" y2="339.00" stroke="#ec6a6a" stroke-width="0.55" />
<line x1="239.00" y1="330.80" x2="243.00" y2="333.10" stroke="#ec6a6a" stroke-width="0.55" />
<line x1="239.00" y1="341.90" x2="243.00" y2="339.50" stroke="#ec6a6a" stroke-width="0.55" />
<line x1="238.60" y1="329.40" x2="238.60" y2="326.60" stroke="#ec6a6a" stroke-width="0.55" />
<text x="237.00" y="326.60" font-size="4.4" fill="#ec6a6a">NO<tspan font-size="3" dy="1">2</tspan></text>
<line x1="244.25" y1="340.00" x2="248.60" y2="342.60" stroke="#ec6a6a" stroke-width="0.55" />
<text x="248.60" y="347.20" font-size="4.4" fill="#ec6a6a">NO<tspan font-size="3" dy="1">2</tspan></text>
<polyline points="341.10,367.10 341.10,359.75 335.50,356.40 329.30,359.75 323.10,356.40 317.50,359.75 311.30,356.40 305.70,359.75 299.50,356.40" fill="none" stroke="#6b6b6b" stroke-width="0.55" stroke-linejoin="round" />
<polyline points="293.90,367.10 299.50,369.90 305.70,367.10 311.30,369.90 317.50,367.10 323.10,369.90 329.30,367.10 335.50,369.90 341.10,367.10 346.75,369.90" fill="none" stroke="#6b6b6b" stroke-width="0.55" stroke-linejoin="round" />
<line x1="346.75" y1="369.90" x2="351.00" y2="367.30" stroke="#6b6b6b" stroke-width="0.55" />
<line x1="346.30" y1="368.40" x2="350.60" y2="365.80" stroke="#6b6b6b" stroke-width="0.55" />
<text x="351.20" y="369.00" font-size="4.6" fill="#6b6b6b">O</text>
<line x1="346.75" y1="369.90" x2="346.75" y2="374.90" stroke="#6b6b6b" stroke-width="0.55" />
<text x="345.00" y="379.00" font-size="4.6" fill="#6b6b6b">O</text>
<polyline points="348.60,378.20 352.40,380.00 358.00,377.20 363.60,380.00 369.20,377.20 374.80,380.00 380.40,377.20 383.40,385.00" fill="none" stroke="#6b6b6b" stroke-width="0.55" stroke-linejoin="round" />
<polyline points="348.60,390.00 352.40,386.75 358.00,389.60 363.60,386.75 369.20,389.60 374.80,386.75 380.40,389.60 383.40,385.00" fill="none" stroke="#6b6b6b" stroke-width="0.55" stroke-linejoin="round" />
<text x="345.00" y="392.60" font-size="4.6" fill="#6b6b6b">O</text>
<line x1="346.75" y1="392.80" x2="346.75" y2="396.90" stroke="#6b6b6b" stroke-width="0.55" />
<line x1="346.75" y1="396.90" x2="351.00" y2="399.50" stroke="#6b6b6b" stroke-width="0.55" />
<line x1="346.30" y1="398.40" x2="350.60" y2="401.00" stroke="#6b6b6b" stroke-width="0.55" />
<text x="351.20" y="402.60" font-size="4.6" fill="#6b6b6b">O</text>
<polyline points="293.90,400.25 299.50,396.90 305.70,400.25 311.30,396.90 317.50,400.25 323.10,396.90 329.30,400.25 335.50,396.90 341.10,400.25 346.75,396.90" fill="none" stroke="#6b6b6b" stroke-width="0.55" stroke-linejoin="round" />
<polyline points="341.10,400.25 341.10,407.60 335.50,410.90 329.30,407.60 323.10,410.90 317.50,407.60 311.30,410.90 305.70,407.60 299.50,410.90" fill="none" stroke="#6b6b6b" stroke-width="0.55" stroke-linejoin="round" />
<line x1="383.40" y1="385.00" x2="385.00" y2="379.60" stroke="#6b6b6b" stroke-width="0.55" />
<text x="385.00" y="379.60" font-size="4.6" fill="#6b6b6b">OH</text>
<polyline points="383.40,385.00 389.60,386.50 395.75,383.40 401.40,386.50 407.60,382.80" fill="none" stroke="#6b6b6b" stroke-width="0.55" stroke-linejoin="round" />
<line x1="407.60" y1="382.80" x2="411.60" y2="385.40" stroke="#ec6a6a" stroke-width="0.55" />
<line x1="407.20" y1="384.30" x2="411.00" y2="386.60" stroke="#ec6a6a" stroke-width="0.55" />
<text x="411.40" y="388.60" font-size="4.6" fill="#ec6a6a">N</text>
<line x1="414.60" y1="386.00" x2="417.00" y2="384.60" stroke="#ec6a6a" stroke-width="0.55" />
<text x="417.00" y="381.20" font-size="4.6" fill="#ec6a6a">H</text>
<text x="417.00" y="385.80" font-size="4.6" fill="#ec6a6a">N</text>
<line x1="420.60" y1="384.40" x2="425.00" y2="385.60" stroke="#ec6a6a" stroke-width="0.55" />
<polyline points="425.00,385.60 430.60,382.40 436.25,385.60 436.25,393.00 430.60,396.30 425.00,393.00 425.00,385.60" fill="none" stroke="#ec6a6a" stroke-width="0.55" stroke-linejoin="round" />
<line x1="426.30" y1="386.60" x2="426.30" y2="392.00" stroke="#ec6a6a" stroke-width="0.55" />
<line x1="431.00" y1="383.80" x2="435.00" y2="386.10" stroke="#ec6a6a" stroke-width="0.55" />
<line x1="431.00" y1="394.90" x2="435.00" y2="392.50" stroke="#ec6a6a" stroke-width="0.55" />
<line x1="430.60" y1="382.40" x2="430.60" y2="379.60" stroke="#ec6a6a" stroke-width="0.55" />
<text x="429.00" y="379.60" font-size="4.4" fill="#ec6a6a">NO<tspan font-size="3" dy="1">2</tspan></text>
<line x1="436.25" y1="393.00" x2="440.60" y2="395.60" stroke="#ec6a6a" stroke-width="0.55" />
<text x="440.60" y="400.20" font-size="4.4" fill="#ec6a6a">NO<tspan font-size="3" dy="1">2</tspan></text>
<line x1="372.10" y1="505.40" x2="395.10" y2="505.40" stroke="#f5a569" stroke-width="1" />
<line x1="372.10" y1="518.50" x2="395.10" y2="518.50" stroke="#dc5a64" stroke-width="1" />
<line x1="372.10" y1="530.80" x2="395.10" y2="530.80" stroke="#9a9a9a" stroke-width="1.2" />
<text x="400.60" y="509.50" font-size="11.5" fill="#333" text-anchor="start" font-weight="normal" >CL4F 10-8</text>
<text x="400.60" y="522.60" font-size="11.5" fill="#333" text-anchor="start" font-weight="normal" >CL4F 11-5</text>
<text x="400.60" y="535.00" font-size="11.5" fill="#333" text-anchor="start" font-weight="normal" >Cholesterol</text>
<rect x="490.5" y="245.20" width="302.8" height="175.00" fill="none" stroke="#f8bb92" stroke-width="1"/>
<line x1="581.40" y1="256.30" x2="581.40" y2="373.20" stroke="#8a8a8a" stroke-width="1" />
<line x1="581.40" y1="373.20" x2="768.60" y2="373.20" stroke="#8a8a8a" stroke-width="1" />
<line x1="578.20" y1="373.20" x2="581.40" y2="373.20" stroke="#8a8a8a" stroke-width="1" />
<text x="572.6" y="377.80" font-size="12" fill="#222" text-anchor="end">0.0<tspan font-size="13.6" dy="0.4">×</tspan><tspan dy="-0.4">10</tspan><tspan font-size="8.5" dy="-4.4">0</tspan></text>
<line x1="578.20" y1="343.80" x2="581.40" y2="343.80" stroke="#8a8a8a" stroke-width="1" />
<text x="572.6" y="348.40" font-size="12" fill="#222" text-anchor="end">1.0<tspan font-size="13.6" dy="0.4">×</tspan><tspan dy="-0.4">10</tspan><tspan font-size="8.5" dy="-4.4">6</tspan></text>
<line x1="578.20" y1="314.70" x2="581.40" y2="314.70" stroke="#8a8a8a" stroke-width="1" />
<text x="572.6" y="319.30" font-size="12" fill="#222" text-anchor="end">2.0<tspan font-size="13.6" dy="0.4">×</tspan><tspan dy="-0.4">10</tspan><tspan font-size="8.5" dy="-4.4">6</tspan></text>
<line x1="578.20" y1="285.60" x2="581.40" y2="285.60" stroke="#8a8a8a" stroke-width="1" />
<text x="572.6" y="290.20" font-size="12" fill="#222" text-anchor="end">3.0<tspan font-size="13.6" dy="0.4">×</tspan><tspan dy="-0.4">10</tspan><tspan font-size="8.5" dy="-4.4">6</tspan></text>
<line x1="578.20" y1="256.30" x2="581.40" y2="256.30" stroke="#8a8a8a" stroke-width="1" />
<text x="572.6" y="260.90" font-size="12" fill="#222" text-anchor="end">4.0<tspan font-size="13.6" dy="0.4">×</tspan><tspan dy="-0.4">10</tspan><tspan font-size="8.5" dy="-4.4">6</tspan></text>
<line x1="581.40" y1="373.20" x2="581.40" y2="376.40" stroke="#8a8a8a" stroke-width="1" />
<line x1="600.12" y1="373.20" x2="600.12" y2="375.20" stroke="#8a8a8a" stroke-width="1" />
<line x1="618.84" y1="373.20" x2="618.84" y2="375.20" stroke="#8a8a8a" stroke-width="1" />
<line x1="637.56" y1="373.20" x2="637.56" y2="375.20" stroke="#8a8a8a" stroke-width="1" />
<line x1="656.28" y1="373.20" x2="656.28" y2="375.20" stroke="#8a8a8a" stroke-width="1" />
<line x1="675.00" y1="373.20" x2="675.00" y2="376.40" stroke="#8a8a8a" stroke-width="1" />
<line x1="693.72" y1="373.20" x2="693.72" y2="375.20" stroke="#8a8a8a" stroke-width="1" />
<line x1="712.44" y1="373.20" x2="712.44" y2="375.20" stroke="#8a8a8a" stroke-width="1" />
<line x1="731.16" y1="373.20" x2="731.16" y2="375.20" stroke="#8a8a8a" stroke-width="1" />
<line x1="749.88" y1="373.20" x2="749.88" y2="375.20" stroke="#8a8a8a" stroke-width="1" />
<line x1="768.60" y1="373.20" x2="768.60" y2="376.40" stroke="#8a8a8a" stroke-width="1" />
<text x="581.40" y="391.50" font-size="11.5" fill="#222" text-anchor="middle" font-weight="normal" >950</text>
<text x="675.00" y="391.50" font-size="11.5" fill="#222" text-anchor="middle" font-weight="normal" >1000</text>
<text x="768.60" y="391.50" font-size="11.5" fill="#222" text-anchor="middle" font-weight="normal" >1050</text>
<text x="675.00" y="406.20" font-size="11.5" fill="#222" text-anchor="middle" font-weight="normal" >m/z</text>
<text transform="translate(509.3,317.95) rotate(-90)" font-size="12" fill="#222" text-anchor="middle">Signal</text>
<line x1="700.60" y1="262.50" x2="700.60" y2="373.20" stroke="#a9a9a9" stroke-width="0.8" />
<line x1="702.30" y1="270.00" x2="702.30" y2="373.20" stroke="#a9a9a9" stroke-width="0.8" />
<line x1="704.40" y1="338.00" x2="704.40" y2="373.20" stroke="#a9a9a9" stroke-width="0.8" />
<line x1="706.20" y1="368.00" x2="706.20" y2="373.20" stroke="#a9a9a9" stroke-width="0.8" />
<line x1="639.40" y1="366.50" x2="639.40" y2="373.20" stroke="#a9a9a9" stroke-width="0.8" />
<line x1="640.60" y1="369.00" x2="640.60" y2="373.20" stroke="#a9a9a9" stroke-width="0.8" />
<line x1="703.20" y1="261.00" x2="716.70" y2="257.70" stroke="#b5b5b5" stroke-width="0.6" />
<text x="720.80" y="260.30" font-size="7" fill="#333" text-anchor="start" font-weight="normal" >1013.7896</text>
<line x1="704.50" y1="270.00" x2="716.70" y2="267.00" stroke="#b5b5b5" stroke-width="0.6" />
<text x="720.80" y="269.60" font-size="7" fill="#333" text-anchor="start" font-weight="normal" >1014.7923</text>
<line x1="706.00" y1="336.50" x2="722.00" y2="332.00" stroke="#b5b5b5" stroke-width="0.6" />
<text x="723.50" y="334.60" font-size="7" fill="#333" text-anchor="start" font-weight="normal" >1015.7957</text>
<line x1="707.00" y1="366.00" x2="724.00" y2="361.40" stroke="#b5b5b5" stroke-width="0.6" />
<text x="726.00" y="364.00" font-size="7" fill="#333" text-anchor="start" font-weight="normal" >1016.7995</text>
<rect x="490.5" y="432.60" width="302.8" height="175.60" fill="none" stroke="#ea8f8f" stroke-width="1"/>
<line x1="581.40" y1="444.90" x2="581.40" y2="561.30" stroke="#8a8a8a" stroke-width="1" />
<line x1="581.40" y1="561.30" x2="768.60" y2="561.30" stroke="#8a8a8a" stroke-width="1" />
<line x1="578.20" y1="561.30" x2="581.40" y2="561.30" stroke="#8a8a8a" stroke-width="1" />
<text x="572.6" y="565.90" font-size="12" fill="#222" text-anchor="end">0.0<tspan font-size="13.6" dy="0.4">×</tspan><tspan dy="-0.4">10</tspan><tspan font-size="8.5" dy="-4.4">0</tspan></text>
<line x1="578.20" y1="532.20" x2="581.40" y2="532.20" stroke="#8a8a8a" stroke-width="1" />
<text x="572.6" y="536.80" font-size="12" fill="#222" text-anchor="end">1.5<tspan font-size="13.6" dy="0.4">×</tspan><tspan dy="-0.4">10</tspan><tspan font-size="8.5" dy="-4.4">6</tspan></text>
<line x1="578.20" y1="503.10" x2="581.40" y2="503.10" stroke="#8a8a8a" stroke-width="1" />
<text x="572.6" y="507.70" font-size="12" fill="#222" text-anchor="end">3.0<tspan font-size="13.6" dy="0.4">×</tspan><tspan dy="-0.4">10</tspan><tspan font-size="8.5" dy="-4.4">6</tspan></text>
<line x1="578.20" y1="474.00" x2="581.40" y2="474.00" stroke="#8a8a8a" stroke-width="1" />
<text x="572.6" y="478.60" font-size="12" fill="#222" text-anchor="end">4.5<tspan font-size="13.6" dy="0.4">×</tspan><tspan dy="-0.4">10</tspan><tspan font-size="8.5" dy="-4.4">6</tspan></text>
<line x1="578.20" y1="444.90" x2="581.40" y2="444.90" stroke="#8a8a8a" stroke-width="1" />
<text x="572.6" y="449.50" font-size="12" fill="#222" text-anchor="end">6.0<tspan font-size="13.6" dy="0.4">×</tspan><tspan dy="-0.4">10</tspan><tspan font-size="8.5" dy="-4.4">6</tspan></text>
<line x1="581.40" y1="561.30" x2="581.40" y2="564.50" stroke="#8a8a8a" stroke-width="1" />
<line x1="600.12" y1="561.30" x2="600.12" y2="563.30" stroke="#8a8a8a" stroke-width="1" />
<line x1="618.84" y1="561.30" x2="618.84" y2="563.30" stroke="#8a8a8a" stroke-width="1" />
<line x1="637.56" y1="561.30" x2="637.56" y2="563.30" stroke="#8a8a8a" stroke-width="1" />
<line x1="656.28" y1="561.30" x2="656.28" y2="563.30" stroke="#8a8a8a" stroke-width="1" />
<line x1="675.00" y1="561.30" x2="675.00" y2="564.50" stroke="#8a8a8a" stroke-width="1" />
<line x1="693.72" y1="561.30" x2="693.72" y2="563.30" stroke="#8a8a8a" stroke-width="1" />
<line x1="712.44" y1="561.30" x2="712.44" y2="563.30" stroke="#8a8a8a" stroke-width="1" />
<line x1="731.16" y1="561.30" x2="731.16" y2="563.30" stroke="#8a8a8a" stroke-width="1" />
<line x1="749.88" y1="561.30" x2="749.88" y2="563.30" stroke="#8a8a8a" stroke-width="1" />
<line x1="768.60" y1="561.30" x2="768.60" y2="564.50" stroke="#8a8a8a" stroke-width="1" />
<text x="581.40" y="579.60" font-size="11.5" fill="#222" text-anchor="middle" font-weight="normal" >950</text>
<text x="675.00" y="579.60" font-size="11.5" fill="#222" text-anchor="middle" font-weight="normal" >1000</text>
<text x="768.60" y="579.60" font-size="11.5" fill="#222" text-anchor="middle" font-weight="normal" >1050</text>
<text x="675.00" y="594.30" font-size="11.5" fill="#222" text-anchor="middle" font-weight="normal" >m/z</text>
<text transform="translate(509.3,506.30) rotate(-90)" font-size="12" fill="#222" text-anchor="middle">Signal</text>
<line x1="595.40" y1="445.80" x2="595.40" y2="561.30" stroke="#a9a9a9" stroke-width="0.8" />
<line x1="597.40" y1="484.70" x2="597.40" y2="561.30" stroke="#a9a9a9" stroke-width="0.8" />
<line x1="599.50" y1="536.20" x2="599.50" y2="561.30" stroke="#a9a9a9" stroke-width="0.8" />
<line x1="601.40" y1="556.80" x2="601.40" y2="561.30" stroke="#a9a9a9" stroke-width="0.8" />
<line x1="598.20" y1="445.80" x2="612.50" y2="443.00" stroke="#b5b5b5" stroke-width="0.6" />
<text x="616.90" y="445.00" font-size="7" fill="#333" text-anchor="start" font-weight="normal" >957.7288</text>
<line x1="600.60" y1="482.80" x2="614.90" y2="479.40" stroke="#b5b5b5" stroke-width="0.6" />
<text x="620.90" y="480.10" font-size="7" fill="#333" text-anchor="start" font-weight="normal" >958.7325</text>
<line x1="600.60" y1="533.00" x2="614.90" y2="529.50" stroke="#b5b5b5" stroke-width="0.6" />
<text x="621.50" y="528.50" font-size="7" fill="#333" text-anchor="start" font-weight="normal" >959.7363</text>
<line x1="601.80" y1="554.40" x2="615.70" y2="551.20" stroke="#b5b5b5" stroke-width="0.6" />
<text x="619.30" y="550.60" font-size="7" fill="#333" text-anchor="start" font-weight="normal" >960.7460</text>
<text x="3.10" y="650.60" font-size="19" fill="#111" text-anchor="start" font-weight="bold" >d</text>
<text x="37.60" y="710.30" font-size="14.2" fill="#333" text-anchor="start" font-weight="normal" >R</text>
<polyline points="49.80,699.30 58.90,694.30 78.10,705.30 96.00,694.30 104.80,698.70" fill="none" stroke="#474747" stroke-width="0.9" stroke-linejoin="round" />
<text x="106.20" y="710.30" font-size="14.2" fill="#333" text-anchor="start" font-weight="normal" >N</text>
<polyline points="119.40,698.70 129.00,694.30 146.90,705.30 164.80,694.30" fill="none" stroke="#474747" stroke-width="0.9" stroke-linejoin="round" />
<polyline points="112.50,711.80 112.50,724.00 130.40,735.00 148.30,724.00" fill="none" stroke="#474747" stroke-width="0.9" stroke-linejoin="round" />
<line x1="180.70" y1="707.00" x2="219.00" y2="707.00" stroke="#222" stroke-width="0.9" />
<polygon points="221.60,707.00 217.10,708.50 217.10,705.50" fill="#222"/>
<text x="180.70" y="725.40" font-size="11.5" fill="#333" text-anchor="start" font-weight="normal" >oxidation</text>
<text x="244.50" y="711.00" font-size="14.2" fill="#333" text-anchor="start" font-weight="normal" >R</text>
<polyline points="255.70,700.90 266.80,695.60 284.60,706.30 301.30,695.60 312.00,701.60" fill="none" stroke="#474747" stroke-width="0.9" stroke-linejoin="round" />
<text x="305.20" y="711.40" font-size="11" fill="#333" text-anchor="start" font-weight="normal" >+</text>
<text x="313.80" y="711.00" font-size="14.2" fill="#333" text-anchor="start" font-weight="normal" >N</text>
<text x="313.20" y="690.90" font-size="14.2" fill="#333" text-anchor="start" font-weight="normal" >O</text>
<line x1="325.00" y1="678.20" x2="329.40" y2="678.20" stroke="#333" stroke-width="1" />
<line x1="318.50" y1="693.40" x2="318.50" y2="699.60" stroke="#474747" stroke-width="0.9" />
<polyline points="325.00,700.90 336.90,695.60 353.50,705.00 371.30,695.60" fill="none" stroke="#474747" stroke-width="0.9" stroke-linejoin="round" />
<polyline points="318.40,712.90 318.40,725.30 335.70,734.80 353.50,725.30" fill="none" stroke="#474747" stroke-width="0.9" stroke-linejoin="round" />
<line x1="393.20" y1="692.60" x2="441.00" y2="669.80" stroke="#222" stroke-width="0.9" />
<polygon points="443.60,668.60 440.18,671.89 438.89,669.18" fill="#222"/>
<line x1="393.75" y1="724.10" x2="440.50" y2="747.80" stroke="#222" stroke-width="0.9" />
<polygon points="443.00,749.10 438.31,748.40 439.67,745.73" fill="#222"/>
<text x="395.10" y="713.20" font-size="11.5" fill="#333" text-anchor="start" font-weight="normal" >hydrolysis</text>
<text x="468.40" y="667.00" font-size="14.2" fill="#333" text-anchor="start" font-weight="normal" >R</text>
<polyline points="480.40,656.90 491.40,652.20 507.90,661.60 528.50,652.20 538.10,658.30" fill="none" stroke="#474747" stroke-width="0.9" stroke-linejoin="round" />
<text x="539.00" y="667.00" font-size="14.2" fill="#333" text-anchor="start" font-weight="normal" >N</text>
<text x="539.00" y="679.80" font-size="14.2" fill="#333" text-anchor="start" font-weight="normal" >H</text>
<polyline points="548.30,658.30 558.80,652.20 575.30,661.60 594.50,652.20" fill="none" stroke="#474747" stroke-width="0.9" stroke-linejoin="round" />
<text x="471.60" y="698.90" font-size="11.5" fill="#333" text-anchor="start" font-weight="normal" >Fatty secondary amine</text>
<text x="633.75" y="667.40" font-size="14" fill="#333" text-anchor="middle" font-weight="normal" >+</text>
<text x="693.40" y="665.20" font-size="14.2" fill="#333" text-anchor="start" font-weight="normal" >O</text>
<line x1="705.40" y1="661.60" x2="717.80" y2="668.60" stroke="#474747" stroke-width="0.9" />
<line x1="704.20" y1="664.90" x2="716.40" y2="671.80" stroke="#474747" stroke-width="0.9" />
<polyline points="716.40,671.80 737.00,660.50 757.00,672.50" fill="none" stroke="#474747" stroke-width="0.9" stroke-linejoin="round" />
<text x="491.20" y="759.90" font-size="14.2" fill="#333" text-anchor="start" font-weight="normal" >R</text>
<polyline points="502.40,747.50 514.80,742.60 534.00,753.50 551.90,742.60 563.40,749.40" fill="none" stroke="#474747" stroke-width="0.9" stroke-linejoin="round" />
<line x1="552.60" y1="745.60" x2="562.40" y2="751.40" stroke="#474747" stroke-width="0.9" />
<text x="563.40" y="761.90" font-size="14.2" fill="#333" text-anchor="start" font-weight="normal" >O</text>
<text x="491.40" y="782.40" font-size="11.5" fill="#333" text-anchor="start" font-weight="normal" >Fatty aldehyde</text>
<text x="633.75" y="757.40" font-size="14" fill="#333" text-anchor="middle" font-weight="normal" >+</text>
<polyline points="672.50,764.50 692.00,752.50 711.25,764.50 722.50,757.80" fill="none" stroke="#474747" stroke-width="0.9" stroke-linejoin="round" />
<text x="724.80" y="759.30" font-size="14.2" fill="#333" text-anchor="start" font-weight="normal" >N</text>
<text x="724.80" y="745.10" font-size="14.2" fill="#333" text-anchor="start" font-weight="normal" >H</text>
<polyline points="736.40,757.80 748.00,764.50 767.50,752.50 787.00,764.50" fill="none" stroke="#474747" stroke-width="0.9" stroke-linejoin="round" />
<polyline points="52.10,753.40 65.60,761.90 65.60,778.20" fill="none" stroke="#474747" stroke-width="0.9" stroke-linejoin="round" />
<text x="56.90" y="762.20" font-size="12" fill="#333" text-anchor="start" font-weight="normal" >(</text>
<text x="70.10" y="761.60" font-size="12" fill="#333" text-anchor="start" font-weight="normal" >)</text>
<text x="73.00" y="769.20" font-size="8.0" fill="#333" text-anchor="start" font-weight="normal" >n-1</text>
<polyline points="38.00,777.60 52.60,784.90 65.60,778.20 79.60,786.10 79.60,797.00" fill="none" stroke="#474747" stroke-width="0.9" stroke-linejoin="round" />
<text x="41.00" y="786.90" font-size="12" fill="#333" text-anchor="start" font-weight="normal" >(</text>
<text x="56.10" y="786.40" font-size="12" fill="#333" text-anchor="start" font-weight="normal" >)</text>
<text x="26.60" y="791.20" font-size="8.3" fill="#333" text-anchor="start" font-weight="normal" >m-3</text>
<line x1="79.60" y1="786.10" x2="88.60" y2="780.60" stroke="#474747" stroke-width="0.9" />
<line x1="80.60" y1="788.60" x2="89.60" y2="783.10" stroke="#474747" stroke-width="0.9" />
<text x="89.40" y="782.40" font-size="12.5" fill="#333" text-anchor="start" font-weight="normal" >O</text>
<text x="75.80" y="806.40" font-size="12.5" fill="#333" text-anchor="start" font-weight="normal" >O</text>
<polyline points="84.20,804.60 93.50,809.50 107.75,801.70 121.25,809.50 135.50,801.70 149.00,809.50 163.25,801.70 167.75,817.00" fill="none" stroke="#474747" stroke-width="0.9" stroke-linejoin="round" />
<polyline points="84.20,829.60 93.50,824.80 107.75,832.75 121.25,824.80 135.50,832.75 149.00,824.80 163.25,832.75 167.75,817.00" fill="none" stroke="#474747" stroke-width="0.9" stroke-linejoin="round" />
<line x1="167.75" y1="817.00" x2="171.20" y2="808.60" stroke="#474747" stroke-width="0.9" />
<text x="170.60" y="808.30" font-size="12.5" fill="#333" text-anchor="start" font-weight="normal" >OH</text>
<polyline points="167.75,817.00 182.00,825.25 191.75,819.25" fill="none" stroke="#474747" stroke-width="0.9" stroke-linejoin="round" />
<path d="M189.6,812.8 q2.2,0.2 1.4,1.8 t1.4,1.8 t1.4,1.8 t1.4,1.8 t1.4,1.8 t1.4,1.8" fill="none" stroke="#474747" stroke-width="0.8"/>
<text x="204.80" y="824.20" font-size="12.8" fill="#333" text-anchor="start" font-weight="normal" >= R</text>
<text x="75.30" y="838.10" font-size="12.5" fill="#333" text-anchor="start" font-weight="normal" >O</text>
<polyline points="79.60,839.20 79.60,849.25 65.60,857.10 52.60,849.25 38.00,857.10" fill="none" stroke="#474747" stroke-width="0.9" stroke-linejoin="round" />
<line x1="79.60" y1="849.25" x2="88.40" y2="854.60" stroke="#474747" stroke-width="0.9" />
<line x1="80.60" y1="846.90" x2="89.40" y2="852.20" stroke="#474747" stroke-width="0.9" />
<text x="88.80" y="861.70" font-size="12.5" fill="#333" text-anchor="start" font-weight="normal" >O</text>
<text x="42.80" y="854.60" font-size="12" fill="#333" text-anchor="start" font-weight="normal" >(</text>
<text x="56.60" y="853.50" font-size="12" fill="#333" text-anchor="start" font-weight="normal" >)</text>
<text x="27.60" y="849.90" font-size="8.3" fill="#333" text-anchor="start" font-weight="normal" >m-3</text>
<polyline points="65.60,857.10 65.60,872.90 52.10,881.30" fill="none" stroke="#474747" stroke-width="0.9" stroke-linejoin="round" />
<text x="56.90" y="877.10" font-size="12" fill="#333" text-anchor="start" font-weight="normal" >(</text>
<text x="70.70" y="877.10" font-size="12" fill="#333" text-anchor="start" font-weight="normal" >)</text>
<text x="74.00" y="882.60" font-size="8.0" fill="#333" text-anchor="start" font-weight="normal" >n-1</text>
</svg></body></html>
